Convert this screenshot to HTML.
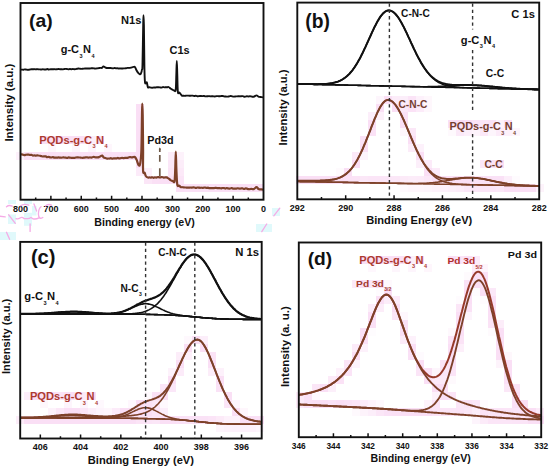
<!DOCTYPE html><html><head><meta charset="utf-8"><style>html,body{margin:0;padding:0;background:#fff;width:550px;height:468px;overflow:hidden}svg{display:block}</style></head><body><svg width="550" height="468" viewBox="0 0 550 468" font-family='"Liberation Sans", sans-serif' font-weight="bold">
<rect width="550" height="468" fill="#fff"/>
<g shape-rendering="crispEdges"><rect x="376" y="96" width="8" height="8" fill="#fdf5fc"/><rect x="384" y="96" width="8" height="8" fill="#fadff5"/><rect x="392" y="96" width="8" height="8" fill="#fcecf9"/><rect x="400" y="96" width="8" height="8" fill="#fceefa"/><rect x="408" y="96" width="8" height="8" fill="#fbe4f7"/><rect x="416" y="96" width="8" height="8" fill="#fdf1fb"/><rect x="424" y="96" width="8" height="8" fill="#fef7fc"/><rect x="136" y="104" width="8" height="8" fill="#fadff5"/><rect x="376" y="104" width="8" height="8" fill="#fadff5"/><rect x="392" y="104" width="8" height="8" fill="#fadff5"/><rect x="400" y="104" width="8" height="8" fill="#fbe8f8"/><rect x="408" y="104" width="8" height="8" fill="#fbe2f6"/><rect x="416" y="104" width="8" height="8" fill="#fcebf9"/><rect x="424" y="104" width="8" height="8" fill="#fef7fc"/><rect x="136" y="112" width="8" height="8" fill="#fadff5"/><rect x="368" y="112" width="8" height="8" fill="#fceefa"/><rect x="376" y="112" width="8" height="8" fill="#fdf0fa"/><rect x="400" y="112" width="8" height="8" fill="#fae1f6"/><rect x="136" y="120" width="8" height="8" fill="#fadff5"/><rect x="368" y="120" width="8" height="8" fill="#fadff5"/><rect x="400" y="120" width="8" height="8" fill="#fadff5"/><rect x="448" y="120" width="8" height="8" fill="#fadff5"/><rect x="456" y="120" width="8" height="8" fill="#fadff5"/><rect x="464" y="120" width="8" height="8" fill="#fadff5"/><rect x="472" y="120" width="8" height="8" fill="#fbe5f7"/><rect x="480" y="120" width="8" height="8" fill="#fbe6f7"/><rect x="488" y="120" width="8" height="8" fill="#fbe3f6"/><rect x="496" y="120" width="8" height="8" fill="#fdf2fb"/><rect x="504" y="120" width="8" height="8" fill="#fadff5"/><rect x="136" y="128" width="8" height="8" fill="#fadff5"/><rect x="368" y="128" width="8" height="8" fill="#fbe2f6"/><rect x="400" y="128" width="8" height="8" fill="#fef6fc"/><rect x="408" y="128" width="8" height="8" fill="#fbe7f7"/><rect x="448" y="128" width="8" height="8" fill="#fef9fd"/><rect x="456" y="128" width="8" height="8" fill="#fbe9f8"/><rect x="464" y="128" width="8" height="8" fill="#fceffa"/><rect x="472" y="128" width="8" height="8" fill="#fdf3fb"/><rect x="480" y="128" width="8" height="8" fill="#fbe8f8"/><rect x="488" y="128" width="8" height="8" fill="#fdf5fc"/><rect x="496" y="128" width="8" height="8" fill="#fcebf9"/><rect x="504" y="128" width="8" height="8" fill="#fdf1fb"/><rect x="512" y="128" width="8" height="8" fill="#fdf5fc"/><rect x="40" y="136" width="8" height="8" fill="#fadff5"/><rect x="48" y="136" width="8" height="8" fill="#fadff5"/><rect x="56" y="136" width="8" height="8" fill="#fadff5"/><rect x="64" y="136" width="8" height="8" fill="#fadff5"/><rect x="72" y="136" width="8" height="8" fill="#fadff5"/><rect x="80" y="136" width="8" height="8" fill="#fadff5"/><rect x="88" y="136" width="8" height="8" fill="#fceefa"/><rect x="96" y="136" width="8" height="8" fill="#fadff5"/><rect x="136" y="136" width="8" height="8" fill="#fadff5"/><rect x="360" y="136" width="8" height="8" fill="#fae2f6"/><rect x="408" y="136" width="8" height="8" fill="#fadff5"/><rect x="48" y="144" width="8" height="8" fill="#fef7fc"/><rect x="72" y="144" width="8" height="8" fill="#fdf5fc"/><rect x="88" y="144" width="8" height="8" fill="#fdf5fc"/><rect x="104" y="144" width="8" height="8" fill="#fef6fc"/><rect x="136" y="144" width="8" height="8" fill="#fadff5"/><rect x="360" y="144" width="8" height="8" fill="#fadff5"/><rect x="408" y="144" width="8" height="8" fill="#fcecf9"/><rect x="416" y="144" width="8" height="8" fill="#fdf1fb"/><rect x="16" y="152" width="8" height="8" fill="#fdf1fb"/><rect x="24" y="152" width="8" height="8" fill="#fae0f5"/><rect x="32" y="152" width="8" height="8" fill="#fae1f6"/><rect x="40" y="152" width="8" height="8" fill="#fadff5"/><rect x="48" y="152" width="8" height="8" fill="#fadff5"/><rect x="56" y="152" width="8" height="8" fill="#fae0f5"/><rect x="64" y="152" width="8" height="8" fill="#fae0f5"/><rect x="72" y="152" width="8" height="8" fill="#fae1f6"/><rect x="80" y="152" width="8" height="8" fill="#fae0f5"/><rect x="88" y="152" width="8" height="8" fill="#fae0f5"/><rect x="96" y="152" width="8" height="8" fill="#fadff5"/><rect x="104" y="152" width="8" height="8" fill="#fae0f5"/><rect x="112" y="152" width="8" height="8" fill="#fae0f5"/><rect x="120" y="152" width="8" height="8" fill="#fae0f5"/><rect x="128" y="152" width="8" height="8" fill="#fadff5"/><rect x="136" y="152" width="8" height="8" fill="#fadff5"/><rect x="168" y="152" width="8" height="8" fill="#fcecf9"/><rect x="176" y="152" width="8" height="8" fill="#fdf2fb"/><rect x="352" y="152" width="8" height="8" fill="#fce9f8"/><rect x="360" y="152" width="8" height="8" fill="#fdf4fc"/><rect x="416" y="152" width="8" height="8" fill="#fadff5"/><rect x="136" y="160" width="8" height="8" fill="#fadff5"/><rect x="168" y="160" width="8" height="8" fill="#fbe7f8"/><rect x="176" y="160" width="8" height="8" fill="#fcedf9"/><rect x="352" y="160" width="8" height="8" fill="#fadff5"/><rect x="416" y="160" width="8" height="8" fill="#fceffa"/><rect x="424" y="160" width="8" height="8" fill="#fcebf9"/><rect x="480" y="160" width="8" height="8" fill="#fbe7f7"/><rect x="488" y="160" width="8" height="8" fill="#fbe3f6"/><rect x="496" y="160" width="8" height="8" fill="#fadff5"/><rect x="136" y="168" width="8" height="8" fill="#fcebf9"/><rect x="144" y="168" width="8" height="8" fill="#fceffa"/><rect x="168" y="168" width="8" height="8" fill="#fbe4f6"/><rect x="176" y="168" width="8" height="8" fill="#fce9f8"/><rect x="336" y="168" width="8" height="8" fill="#fefafd"/><rect x="344" y="168" width="8" height="8" fill="#fadff5"/><rect x="424" y="168" width="8" height="8" fill="#fadff5"/><rect x="432" y="168" width="8" height="8" fill="#fcebf9"/><rect x="144" y="176" width="8" height="8" fill="#fbe6f7"/><rect x="152" y="176" width="8" height="8" fill="#fae0f5"/><rect x="160" y="176" width="8" height="8" fill="#fadff5"/><rect x="168" y="176" width="8" height="8" fill="#fadff5"/><rect x="176" y="176" width="8" height="8" fill="#fbe4f7"/><rect x="296" y="176" width="8" height="8" fill="#fadff5"/><rect x="304" y="176" width="8" height="8" fill="#fadff5"/><rect x="312" y="176" width="8" height="8" fill="#fadff5"/><rect x="320" y="176" width="8" height="8" fill="#fadff5"/><rect x="328" y="176" width="8" height="8" fill="#fadff5"/><rect x="336" y="176" width="8" height="8" fill="#fadff5"/><rect x="344" y="176" width="8" height="8" fill="#fbe2f6"/><rect x="352" y="176" width="8" height="8" fill="#fbe3f6"/><rect x="360" y="176" width="8" height="8" fill="#fbe7f7"/><rect x="368" y="176" width="8" height="8" fill="#fbe5f7"/><rect x="376" y="176" width="8" height="8" fill="#fbe5f7"/><rect x="384" y="176" width="8" height="8" fill="#fbe6f7"/><rect x="392" y="176" width="8" height="8" fill="#fbe7f7"/><rect x="400" y="176" width="8" height="8" fill="#fceaf8"/><rect x="408" y="176" width="8" height="8" fill="#fcecf9"/><rect x="416" y="176" width="8" height="8" fill="#fcebf9"/><rect x="424" y="176" width="8" height="8" fill="#fbe7f8"/><rect x="432" y="176" width="8" height="8" fill="#fadff5"/><rect x="440" y="176" width="8" height="8" fill="#fadff5"/><rect x="448" y="176" width="8" height="8" fill="#fadff5"/><rect x="456" y="176" width="8" height="8" fill="#fadff5"/><rect x="464" y="176" width="8" height="8" fill="#fadff5"/><rect x="472" y="176" width="8" height="8" fill="#fae2f6"/><rect x="480" y="176" width="8" height="8" fill="#fae1f6"/><rect x="488" y="176" width="8" height="8" fill="#fae1f6"/><rect x="496" y="176" width="8" height="8" fill="#fae1f6"/><rect x="504" y="176" width="8" height="8" fill="#fceefa"/><rect x="512" y="176" width="8" height="8" fill="#fefbfe"/><rect x="176" y="184" width="8" height="8" fill="#fadff5"/><rect x="184" y="184" width="8" height="8" fill="#fae1f6"/><rect x="192" y="184" width="8" height="8" fill="#fae0f5"/><rect x="200" y="184" width="8" height="8" fill="#fae1f6"/><rect x="208" y="184" width="8" height="8" fill="#fae0f5"/><rect x="216" y="184" width="8" height="8" fill="#fae0f5"/><rect x="224" y="184" width="8" height="8" fill="#fae0f5"/><rect x="232" y="184" width="8" height="8" fill="#fae0f5"/><rect x="240" y="184" width="8" height="8" fill="#fadff5"/><rect x="248" y="184" width="8" height="8" fill="#fadff5"/><rect x="256" y="184" width="8" height="8" fill="#fae0f5"/><rect x="400" y="184" width="8" height="8" fill="#fef9fd"/><rect x="408" y="184" width="8" height="8" fill="#fef6fc"/><rect x="416" y="184" width="8" height="8" fill="#fef6fc"/><rect x="424" y="184" width="8" height="8" fill="#fdf5fc"/><rect x="432" y="184" width="8" height="8" fill="#fdf2fb"/><rect x="440" y="184" width="8" height="8" fill="#fdf1fb"/><rect x="448" y="184" width="8" height="8" fill="#fceffa"/><rect x="456" y="184" width="8" height="8" fill="#fcecf9"/><rect x="464" y="184" width="8" height="8" fill="#fbe7f8"/><rect x="472" y="184" width="8" height="8" fill="#fbe6f7"/><rect x="480" y="184" width="8" height="8" fill="#fbe5f7"/><rect x="488" y="184" width="8" height="8" fill="#fbe5f7"/><rect x="496" y="184" width="8" height="8" fill="#fbe7f7"/><rect x="504" y="184" width="8" height="8" fill="#fadff5"/><rect x="512" y="184" width="8" height="8" fill="#fadff5"/><rect x="520" y="184" width="8" height="8" fill="#fadff5"/><rect x="528" y="184" width="8" height="8" fill="#fae0f5"/><rect x="536" y="184" width="8" height="8" fill="#fdf3fb"/><rect x="360" y="256" width="8" height="8" fill="#fadff5"/><rect x="368" y="256" width="8" height="8" fill="#fadff5"/><rect x="376" y="256" width="8" height="8" fill="#fadff5"/><rect x="384" y="256" width="8" height="8" fill="#fadff5"/><rect x="392" y="256" width="8" height="8" fill="#fadff5"/><rect x="400" y="256" width="8" height="8" fill="#fadff5"/><rect x="408" y="256" width="8" height="8" fill="#fceffa"/><rect x="416" y="256" width="8" height="8" fill="#fadff5"/><rect x="448" y="256" width="8" height="8" fill="#fadff5"/><rect x="456" y="256" width="8" height="8" fill="#fbe4f7"/><rect x="464" y="256" width="8" height="8" fill="#fadff5"/><rect x="472" y="256" width="8" height="8" fill="#fcebf9"/><rect x="368" y="264" width="8" height="8" fill="#fef7fd"/><rect x="392" y="264" width="8" height="8" fill="#fdf5fc"/><rect x="408" y="264" width="8" height="8" fill="#fdf5fc"/><rect x="424" y="264" width="8" height="8" fill="#fef6fc"/><rect x="472" y="264" width="8" height="8" fill="#fceaf8"/><rect x="480" y="264" width="8" height="8" fill="#fef5fc"/><rect x="464" y="272" width="8" height="8" fill="#fefafd"/><rect x="472" y="272" width="8" height="8" fill="#fadff5"/><rect x="480" y="272" width="8" height="8" fill="#fae1f6"/><rect x="352" y="280" width="8" height="8" fill="#fceaf8"/><rect x="360" y="280" width="8" height="8" fill="#fadff5"/><rect x="368" y="280" width="8" height="8" fill="#fbe6f7"/><rect x="376" y="280" width="8" height="8" fill="#fadff5"/><rect x="384" y="280" width="8" height="8" fill="#fef9fd"/><rect x="464" y="280" width="8" height="8" fill="#fae2f6"/><rect x="472" y="280" width="8" height="8" fill="#fadff5"/><rect x="480" y="280" width="8" height="8" fill="#fadff5"/><rect x="376" y="288" width="8" height="8" fill="#fefbfe"/><rect x="384" y="288" width="8" height="8" fill="#fadff5"/><rect x="464" y="288" width="8" height="8" fill="#fadff5"/><rect x="472" y="288" width="8" height="8" fill="#fefcfe"/><rect x="480" y="288" width="8" height="8" fill="#fadff5"/><rect x="488" y="288" width="8" height="8" fill="#fbe8f8"/><rect x="376" y="296" width="8" height="8" fill="#fadff5"/><rect x="384" y="296" width="8" height="8" fill="#fcedf9"/><rect x="392" y="296" width="8" height="8" fill="#fcebf9"/><rect x="456" y="296" width="8" height="8" fill="#fefbfe"/><rect x="464" y="296" width="8" height="8" fill="#fadff5"/><rect x="480" y="296" width="8" height="8" fill="#fefbfe"/><rect x="488" y="296" width="8" height="8" fill="#fadff5"/><rect x="368" y="304" width="8" height="8" fill="#fceefa"/><rect x="376" y="304" width="8" height="8" fill="#fcedf9"/><rect x="392" y="304" width="8" height="8" fill="#fadff5"/><rect x="456" y="304" width="8" height="8" fill="#fbe6f7"/><rect x="464" y="304" width="8" height="8" fill="#fae2f6"/><rect x="488" y="304" width="8" height="8" fill="#fadff5"/><rect x="368" y="312" width="8" height="8" fill="#fadff5"/><rect x="392" y="312" width="8" height="8" fill="#fbe6f7"/><rect x="400" y="312" width="8" height="8" fill="#fef7fd"/><rect x="456" y="312" width="8" height="8" fill="#fadff5"/><rect x="464" y="312" width="8" height="8" fill="#fdf4fc"/><rect x="488" y="312" width="8" height="8" fill="#fadff5"/><rect x="368" y="320" width="8" height="8" fill="#fae0f5"/><rect x="400" y="320" width="8" height="8" fill="#fadff5"/><rect x="456" y="320" width="8" height="8" fill="#fadff5"/><rect x="488" y="320" width="8" height="8" fill="#fbe3f6"/><rect x="496" y="320" width="8" height="8" fill="#fcedf9"/><rect x="360" y="328" width="8" height="8" fill="#fae1f6"/><rect x="368" y="328" width="8" height="8" fill="#fefcfe"/><rect x="400" y="328" width="8" height="8" fill="#fadff5"/><rect x="448" y="328" width="8" height="8" fill="#fef8fd"/><rect x="456" y="328" width="8" height="8" fill="#fadff5"/><rect x="488" y="328" width="8" height="8" fill="#fefafd"/><rect x="496" y="328" width="8" height="8" fill="#fadff5"/><rect x="184" y="336" width="8" height="8" fill="#fef8fd"/><rect x="192" y="336" width="8" height="8" fill="#fadff5"/><rect x="200" y="336" width="8" height="8" fill="#fceefa"/><rect x="360" y="336" width="8" height="8" fill="#fadff5"/><rect x="400" y="336" width="8" height="8" fill="#fcebf9"/><rect x="408" y="336" width="8" height="8" fill="#fdf1fb"/><rect x="448" y="336" width="8" height="8" fill="#fbe4f7"/><rect x="456" y="336" width="8" height="8" fill="#fbe3f6"/><rect x="496" y="336" width="8" height="8" fill="#fadff5"/><rect x="184" y="344" width="8" height="8" fill="#fadff5"/><rect x="200" y="344" width="8" height="8" fill="#fadff5"/><rect x="352" y="344" width="8" height="8" fill="#fcebf9"/><rect x="360" y="344" width="8" height="8" fill="#fdf1fb"/><rect x="408" y="344" width="8" height="8" fill="#fadff5"/><rect x="448" y="344" width="8" height="8" fill="#fadff5"/><rect x="456" y="344" width="8" height="8" fill="#fdeffa"/><rect x="496" y="344" width="8" height="8" fill="#fadff5"/><rect x="176" y="352" width="8" height="8" fill="#fcedf9"/><rect x="184" y="352" width="8" height="8" fill="#fdf0fa"/><rect x="200" y="352" width="8" height="8" fill="#fefbfe"/><rect x="208" y="352" width="8" height="8" fill="#fbe3f6"/><rect x="352" y="352" width="8" height="8" fill="#fadff5"/><rect x="408" y="352" width="8" height="8" fill="#fae1f6"/><rect x="416" y="352" width="8" height="8" fill="#fefafe"/><rect x="448" y="352" width="8" height="8" fill="#fadff5"/><rect x="496" y="352" width="8" height="8" fill="#fadff5"/><rect x="504" y="352" width="8" height="8" fill="#fef7fc"/><rect x="176" y="360" width="8" height="8" fill="#fadff5"/><rect x="208" y="360" width="8" height="8" fill="#fadff5"/><rect x="344" y="360" width="8" height="8" fill="#fbe5f7"/><rect x="352" y="360" width="8" height="8" fill="#fdf4fc"/><rect x="416" y="360" width="8" height="8" fill="#fadff5"/><rect x="440" y="360" width="8" height="8" fill="#fbe4f7"/><rect x="448" y="360" width="8" height="8" fill="#fae2f6"/><rect x="496" y="360" width="8" height="8" fill="#fdf3fb"/><rect x="504" y="360" width="8" height="8" fill="#fadff5"/><rect x="168" y="368" width="8" height="8" fill="#fdf2fb"/><rect x="176" y="368" width="8" height="8" fill="#fcebf9"/><rect x="208" y="368" width="8" height="8" fill="#fcedf9"/><rect x="216" y="368" width="8" height="8" fill="#fdf1fb"/><rect x="336" y="368" width="8" height="8" fill="#fdf1fb"/><rect x="344" y="368" width="8" height="8" fill="#fbe4f7"/><rect x="416" y="368" width="8" height="8" fill="#fbe5f7"/><rect x="424" y="368" width="8" height="8" fill="#fae0f5"/><rect x="432" y="368" width="8" height="8" fill="#fdf5fc"/><rect x="440" y="368" width="8" height="8" fill="#fbe6f7"/><rect x="448" y="368" width="8" height="8" fill="#fbe4f7"/><rect x="504" y="368" width="8" height="8" fill="#fadff5"/><rect x="168" y="376" width="8" height="8" fill="#fadff5"/><rect x="216" y="376" width="8" height="8" fill="#fadff5"/><rect x="328" y="376" width="8" height="8" fill="#fceaf8"/><rect x="336" y="376" width="8" height="8" fill="#fbe2f6"/><rect x="424" y="376" width="8" height="8" fill="#fadff5"/><rect x="432" y="376" width="8" height="8" fill="#fce9f8"/><rect x="440" y="376" width="8" height="8" fill="#fceaf8"/><rect x="448" y="376" width="8" height="8" fill="#fef9fd"/><rect x="504" y="376" width="8" height="8" fill="#fadff5"/><rect x="160" y="384" width="8" height="8" fill="#fbe5f7"/><rect x="168" y="384" width="8" height="8" fill="#fbe7f8"/><rect x="216" y="384" width="8" height="8" fill="#fae2f6"/><rect x="312" y="384" width="8" height="8" fill="#fbe6f7"/><rect x="320" y="384" width="8" height="8" fill="#fadff5"/><rect x="328" y="384" width="8" height="8" fill="#fceffa"/><rect x="432" y="384" width="8" height="8" fill="#fadff5"/><rect x="440" y="384" width="8" height="8" fill="#fadff5"/><rect x="504" y="384" width="8" height="8" fill="#fbe7f7"/><rect x="512" y="384" width="8" height="8" fill="#fbe4f6"/><rect x="24" y="392" width="8" height="8" fill="#fceefa"/><rect x="32" y="392" width="8" height="8" fill="#fadff5"/><rect x="40" y="392" width="8" height="8" fill="#fadff5"/><rect x="48" y="392" width="8" height="8" fill="#fadff5"/><rect x="56" y="392" width="8" height="8" fill="#fbe3f6"/><rect x="64" y="392" width="8" height="8" fill="#fadff5"/><rect x="72" y="392" width="8" height="8" fill="#fadff5"/><rect x="80" y="392" width="8" height="8" fill="#fceaf8"/><rect x="88" y="392" width="8" height="8" fill="#fadff5"/><rect x="144" y="392" width="8" height="8" fill="#fef9fd"/><rect x="152" y="392" width="8" height="8" fill="#fae2f6"/><rect x="160" y="392" width="8" height="8" fill="#fadff5"/><rect x="224" y="392" width="8" height="8" fill="#fae0f5"/><rect x="296" y="392" width="8" height="8" fill="#fceaf8"/><rect x="304" y="392" width="8" height="8" fill="#fae2f6"/><rect x="312" y="392" width="8" height="8" fill="#fef9fd"/><rect x="432" y="392" width="8" height="8" fill="#fdf2fb"/><rect x="440" y="392" width="8" height="8" fill="#fadff5"/><rect x="448" y="392" width="8" height="8" fill="#fbe4f7"/><rect x="512" y="392" width="8" height="8" fill="#fadff5"/><rect x="40" y="400" width="8" height="8" fill="#fef7fc"/><rect x="64" y="400" width="8" height="8" fill="#fdf5fc"/><rect x="80" y="400" width="8" height="8" fill="#fdf5fc"/><rect x="96" y="400" width="8" height="8" fill="#fef8fd"/><rect x="128" y="400" width="8" height="8" fill="#fef7fd"/><rect x="136" y="400" width="8" height="8" fill="#fadff5"/><rect x="144" y="400" width="8" height="8" fill="#fae0f5"/><rect x="152" y="400" width="8" height="8" fill="#fbe6f7"/><rect x="160" y="400" width="8" height="8" fill="#fef9fd"/><rect x="224" y="400" width="8" height="8" fill="#fbe5f7"/><rect x="232" y="400" width="8" height="8" fill="#fdf5fc"/><rect x="296" y="400" width="8" height="8" fill="#fceaf8"/><rect x="304" y="400" width="8" height="8" fill="#fae2f6"/><rect x="312" y="400" width="8" height="8" fill="#fae0f5"/><rect x="320" y="400" width="8" height="8" fill="#fadff5"/><rect x="328" y="400" width="8" height="8" fill="#fae2f6"/><rect x="336" y="400" width="8" height="8" fill="#fadff5"/><rect x="344" y="400" width="8" height="8" fill="#fae2f6"/><rect x="352" y="400" width="8" height="8" fill="#fbe5f7"/><rect x="360" y="400" width="8" height="8" fill="#fcecf9"/><rect x="368" y="400" width="8" height="8" fill="#fdf2fb"/><rect x="376" y="400" width="8" height="8" fill="#fef8fd"/><rect x="424" y="400" width="8" height="8" fill="#fdf3fb"/><rect x="432" y="400" width="8" height="8" fill="#fbe4f7"/><rect x="456" y="400" width="8" height="8" fill="#fbe6f7"/><rect x="464" y="400" width="8" height="8" fill="#fbe3f6"/><rect x="472" y="400" width="8" height="8" fill="#fbe7f7"/><rect x="480" y="400" width="8" height="8" fill="#fefbfe"/><rect x="512" y="400" width="8" height="8" fill="#fae0f5"/><rect x="520" y="400" width="8" height="8" fill="#fadff5"/><rect x="48" y="408" width="8" height="8" fill="#fdf2fb"/><rect x="56" y="408" width="8" height="8" fill="#fbe7f7"/><rect x="64" y="408" width="8" height="8" fill="#fadff5"/><rect x="72" y="408" width="8" height="8" fill="#fadff5"/><rect x="80" y="408" width="8" height="8" fill="#fbe5f7"/><rect x="88" y="408" width="8" height="8" fill="#fceefa"/><rect x="96" y="408" width="8" height="8" fill="#fdf4fc"/><rect x="104" y="408" width="8" height="8" fill="#fef6fc"/><rect x="112" y="408" width="8" height="8" fill="#fcebf9"/><rect x="120" y="408" width="8" height="8" fill="#fadff5"/><rect x="128" y="408" width="8" height="8" fill="#fadff5"/><rect x="136" y="408" width="8" height="8" fill="#fadff5"/><rect x="144" y="408" width="8" height="8" fill="#fadff5"/><rect x="152" y="408" width="8" height="8" fill="#fbe5f7"/><rect x="160" y="408" width="8" height="8" fill="#fceefa"/><rect x="232" y="408" width="8" height="8" fill="#fadff5"/><rect x="240" y="408" width="8" height="8" fill="#fef6fc"/><rect x="352" y="408" width="8" height="8" fill="#fef9fd"/><rect x="360" y="408" width="8" height="8" fill="#fdf3fb"/><rect x="368" y="408" width="8" height="8" fill="#fceefa"/><rect x="376" y="408" width="8" height="8" fill="#fbe6f7"/><rect x="384" y="408" width="8" height="8" fill="#fae1f6"/><rect x="392" y="408" width="8" height="8" fill="#fae0f5"/><rect x="400" y="408" width="8" height="8" fill="#fadff5"/><rect x="408" y="408" width="8" height="8" fill="#fadff5"/><rect x="416" y="408" width="8" height="8" fill="#fadff5"/><rect x="424" y="408" width="8" height="8" fill="#fadff5"/><rect x="432" y="408" width="8" height="8" fill="#fbe4f7"/><rect x="440" y="408" width="8" height="8" fill="#fbe5f7"/><rect x="448" y="408" width="8" height="8" fill="#fbe5f7"/><rect x="456" y="408" width="8" height="8" fill="#fbe4f7"/><rect x="464" y="408" width="8" height="8" fill="#fbe7f7"/><rect x="472" y="408" width="8" height="8" fill="#fceefa"/><rect x="480" y="408" width="8" height="8" fill="#fbe3f6"/><rect x="488" y="408" width="8" height="8" fill="#fbe5f7"/><rect x="496" y="408" width="8" height="8" fill="#fbe4f7"/><rect x="504" y="408" width="8" height="8" fill="#fbe5f7"/><rect x="512" y="408" width="8" height="8" fill="#fbe5f7"/><rect x="520" y="408" width="8" height="8" fill="#fadff5"/><rect x="528" y="408" width="8" height="8" fill="#fadff5"/><rect x="536" y="408" width="8" height="8" fill="#fcebf9"/><rect x="16" y="416" width="8" height="8" fill="#fcedf9"/><rect x="24" y="416" width="8" height="8" fill="#fadff5"/><rect x="32" y="416" width="8" height="8" fill="#fadff5"/><rect x="40" y="416" width="8" height="8" fill="#fadff5"/><rect x="48" y="416" width="8" height="8" fill="#fadff5"/><rect x="56" y="416" width="8" height="8" fill="#fadff5"/><rect x="64" y="416" width="8" height="8" fill="#fadff5"/><rect x="72" y="416" width="8" height="8" fill="#fadff5"/><rect x="80" y="416" width="8" height="8" fill="#fadff5"/><rect x="88" y="416" width="8" height="8" fill="#fadff5"/><rect x="96" y="416" width="8" height="8" fill="#fadff5"/><rect x="104" y="416" width="8" height="8" fill="#fadff5"/><rect x="112" y="416" width="8" height="8" fill="#fadff5"/><rect x="120" y="416" width="8" height="8" fill="#fadff5"/><rect x="128" y="416" width="8" height="8" fill="#fadff5"/><rect x="136" y="416" width="8" height="8" fill="#fbe4f6"/><rect x="144" y="416" width="8" height="8" fill="#fbe4f7"/><rect x="152" y="416" width="8" height="8" fill="#fbe6f7"/><rect x="160" y="416" width="8" height="8" fill="#fadff5"/><rect x="168" y="416" width="8" height="8" fill="#fadff5"/><rect x="176" y="416" width="8" height="8" fill="#fae1f6"/><rect x="184" y="416" width="8" height="8" fill="#fae2f6"/><rect x="192" y="416" width="8" height="8" fill="#fae2f6"/><rect x="200" y="416" width="8" height="8" fill="#fae2f6"/><rect x="208" y="416" width="8" height="8" fill="#fbe4f7"/><rect x="216" y="416" width="8" height="8" fill="#fceaf8"/><rect x="224" y="416" width="8" height="8" fill="#fdf1fb"/><rect x="232" y="416" width="8" height="8" fill="#fdf2fb"/><rect x="240" y="416" width="8" height="8" fill="#fadff5"/><rect x="248" y="416" width="8" height="8" fill="#fadff5"/><rect x="256" y="416" width="8" height="8" fill="#fae0f5"/><rect x="472" y="416" width="8" height="8" fill="#fdf4fc"/><rect x="480" y="416" width="8" height="8" fill="#fcebf9"/><rect x="488" y="416" width="8" height="8" fill="#fbe5f7"/><rect x="496" y="416" width="8" height="8" fill="#fbe5f7"/><rect x="504" y="416" width="8" height="8" fill="#fbe5f7"/><rect x="512" y="416" width="8" height="8" fill="#fbe4f7"/><rect x="520" y="416" width="8" height="8" fill="#fbe4f7"/><rect x="528" y="416" width="8" height="8" fill="#fadff5"/><rect x="536" y="416" width="8" height="8" fill="#fadff5"/><rect x="216" y="424" width="8" height="8" fill="#fdf5fc"/><rect x="224" y="424" width="8" height="8" fill="#fdf2fb"/><rect x="232" y="424" width="8" height="8" fill="#fdf1fb"/><rect x="240" y="424" width="8" height="8" fill="#fdf1fb"/><rect x="248" y="424" width="8" height="8" fill="#fdf1fb"/><rect x="256" y="424" width="8" height="8" fill="#fdf5fc"/></g>
<rect x="8" y="200" width="8" height="4" fill="#e0f9fb"/>
<rect x="24" y="200" width="8" height="4" fill="#e0f9fb"/>
<rect x="8" y="214.5" width="8" height="9.5" fill="#e0f9fb"/>
<rect x="24" y="212.8" width="8" height="13" fill="#e0f9fb"/>
<rect x="32" y="206" width="4.5" height="9.5" fill="#e0f9fb"/>
<rect x="0" y="232" width="16" height="8" fill="#e0f9fb"/>
<rect x="272" y="208" width="8" height="8" fill="#e0f9fb"/>
<rect x="256" y="224" width="16" height="8" fill="#e0f9fb"/>
<path d="M20.50,69.60 C20.73,69.60 21.40,69.60 21.86,69.62 C22.31,69.64 22.76,69.75 23.21,69.72 C23.67,69.68 24.12,69.44 24.57,69.41 C25.02,69.38 25.48,69.48 25.93,69.55 C26.38,69.62 26.83,69.76 27.29,69.80 C27.74,69.84 28.19,69.84 28.64,69.79 C29.10,69.74 29.54,69.59 30.00,69.50 C30.46,69.41 30.95,69.26 31.43,69.22 C31.90,69.18 32.38,69.28 32.86,69.27 C33.33,69.25 33.81,69.12 34.29,69.14 C34.76,69.17 35.24,69.41 35.71,69.40 C36.19,69.39 36.67,69.10 37.14,69.10 C37.62,69.10 38.10,69.33 38.57,69.38 C39.05,69.43 39.52,69.38 40.00,69.40 C40.48,69.42 40.95,69.53 41.43,69.50 C41.90,69.48 42.38,69.24 42.86,69.24 C43.33,69.25 43.81,69.49 44.29,69.52 C44.76,69.56 45.24,69.54 45.71,69.46 C46.19,69.39 46.67,69.07 47.14,69.07 C47.62,69.06 48.10,69.39 48.57,69.44 C49.05,69.50 49.52,69.44 50.00,69.40 C50.48,69.36 50.95,69.22 51.43,69.20 C51.90,69.18 52.38,69.29 52.86,69.28 C53.33,69.28 53.81,69.14 54.29,69.16 C54.76,69.19 55.24,69.41 55.71,69.42 C56.19,69.43 56.67,69.29 57.14,69.22 C57.62,69.14 58.10,68.99 58.57,68.99 C59.05,68.99 59.52,69.16 60.00,69.20 C60.48,69.24 60.95,69.18 61.43,69.20 C61.90,69.23 62.38,69.38 62.86,69.34 C63.33,69.30 63.81,69.05 64.29,68.98 C64.76,68.90 65.24,68.89 65.71,68.89 C66.19,68.89 66.67,68.90 67.14,68.98 C67.62,69.05 68.10,69.33 68.57,69.33 C69.05,69.34 69.52,69.00 70.00,69.00 C70.48,69.00 70.95,69.29 71.43,69.30 C71.90,69.32 72.38,69.08 72.86,69.06 C73.33,69.05 73.81,69.19 74.29,69.20 C74.76,69.21 75.24,69.20 75.71,69.13 C76.19,69.06 76.67,68.87 77.14,68.77 C77.62,68.67 78.10,68.54 78.57,68.54 C79.05,68.55 79.52,68.75 80.00,68.80 C80.48,68.85 80.95,68.87 81.43,68.86 C81.90,68.86 82.38,68.80 82.86,68.75 C83.33,68.71 83.81,68.63 84.29,68.57 C84.76,68.52 85.24,68.45 85.71,68.44 C86.19,68.43 86.67,68.51 87.14,68.52 C87.62,68.53 88.10,68.52 88.57,68.52 C89.05,68.52 89.54,68.54 90.00,68.50 C90.46,68.46 90.89,68.34 91.33,68.31 C91.78,68.27 92.22,68.28 92.67,68.29 C93.11,68.30 93.56,68.32 94.00,68.37 C94.44,68.43 94.89,68.62 95.33,68.62 C95.78,68.62 96.22,68.45 96.67,68.39 C97.11,68.34 97.56,68.36 98.00,68.30 C98.44,68.24 98.89,68.09 99.33,68.02 C99.78,67.94 100.22,67.90 100.67,67.88 C101.11,67.86 101.53,68.15 102.00,67.90 C102.47,67.65 103.00,66.50 103.50,66.40 C104.00,66.30 104.50,67.03 105.00,67.30 C105.50,67.57 106.02,67.88 106.50,68.00 C106.98,68.12 107.42,68.05 107.88,68.04 C108.33,68.03 108.79,67.95 109.25,67.94 C109.71,67.94 110.17,67.96 110.62,68.02 C111.08,68.08 111.55,68.25 112.00,68.30 C112.45,68.35 112.89,68.37 113.33,68.33 C113.78,68.28 114.22,68.04 114.67,68.04 C115.11,68.05 115.56,68.30 116.00,68.34 C116.44,68.38 116.89,68.24 117.33,68.27 C117.78,68.30 118.22,68.51 118.67,68.53 C119.11,68.55 119.53,68.40 120.00,68.40 C120.47,68.40 121.00,68.52 121.50,68.52 C122.00,68.53 122.50,68.46 123.00,68.43 C123.50,68.41 124.00,68.42 124.50,68.38 C125.00,68.34 125.47,68.28 126.00,68.20 C126.53,68.12 127.11,67.96 127.67,67.91 C128.22,67.86 128.78,67.97 129.33,67.92 C129.89,67.87 130.31,67.77 131.00,67.60 C131.69,67.43 132.83,66.98 133.50,66.90 C134.17,66.82 134.50,66.55 135.00,67.10 C135.50,67.65 135.97,69.23 136.50,70.20 C137.03,71.17 137.65,72.23 138.20,72.90 C138.75,73.57 139.35,74.10 139.80,74.20 C140.25,74.30 140.53,74.27 140.90,73.50 C141.27,72.73 141.73,71.15 142.00,69.60 C142.27,68.05 142.30,71.63 142.50,64.20 C142.70,56.77 143.03,33.17 143.20,25.00 C143.37,16.83 143.38,15.20 143.50,15.20 C143.62,15.20 143.75,16.55 143.90,25.00 C144.05,33.45 144.23,56.53 144.40,65.90 C144.57,75.27 144.68,78.28 144.90,81.20 C145.12,84.12 145.38,83.22 145.70,83.40 C146.02,83.58 146.43,81.67 146.80,82.30 C147.17,82.93 147.47,86.37 147.90,87.20 C148.33,88.03 148.88,87.19 149.37,87.25 C149.86,87.32 150.34,87.51 150.83,87.58 C151.32,87.66 151.80,87.71 152.30,87.70 C152.80,87.69 153.31,87.54 153.82,87.52 C154.33,87.49 154.83,87.59 155.34,87.54 C155.85,87.49 156.35,87.26 156.86,87.21 C157.37,87.17 157.87,87.25 158.38,87.28 C158.89,87.31 159.41,87.34 159.90,87.40 C160.40,87.46 160.87,87.72 161.35,87.66 C161.83,87.61 162.32,87.13 162.80,87.08 C163.28,87.02 163.77,87.31 164.25,87.33 C164.73,87.36 165.22,87.26 165.70,87.24 C166.18,87.22 166.67,87.26 167.15,87.22 C167.63,87.18 167.99,86.74 168.60,87.00 C169.21,87.26 170.16,88.36 170.80,88.80 C171.44,89.24 171.90,89.35 172.45,89.63 C173.00,89.92 173.56,90.46 174.10,90.50 C174.64,90.54 175.33,92.48 175.70,89.90 C176.07,87.32 176.12,79.82 176.30,75.00 C176.48,70.18 176.63,61.00 176.80,61.00 C176.97,61.00 177.12,69.82 177.30,75.00 C177.48,80.18 177.53,89.17 177.90,92.10 C178.27,95.03 178.87,92.05 179.50,92.60 C180.13,93.15 181.06,94.88 181.70,95.40 C182.34,95.92 182.80,95.63 183.35,95.72 C183.90,95.80 184.50,95.92 185.00,95.90 C185.50,95.88 185.91,95.65 186.36,95.61 C186.82,95.56 187.27,95.60 187.73,95.62 C188.18,95.64 188.64,95.70 189.09,95.72 C189.55,95.73 190.00,95.70 190.45,95.69 C190.91,95.68 191.36,95.67 191.82,95.67 C192.27,95.67 192.73,95.64 193.18,95.70 C193.64,95.75 194.09,95.99 194.55,96.00 C195.00,96.01 195.45,95.70 195.91,95.75 C196.36,95.80 196.82,96.24 197.27,96.30 C197.73,96.36 198.18,96.17 198.64,96.12 C199.09,96.07 199.55,96.01 200.00,96.00 C200.45,95.99 200.89,96.01 201.33,96.04 C201.78,96.07 202.22,96.20 202.67,96.17 C203.11,96.14 203.56,95.84 204.00,95.87 C204.44,95.90 204.89,96.28 205.33,96.35 C205.78,96.42 206.22,96.32 206.67,96.30 C207.11,96.29 207.56,96.28 208.00,96.24 C208.44,96.20 208.89,96.06 209.33,96.08 C209.78,96.10 210.22,96.31 210.67,96.35 C211.11,96.38 211.56,96.31 212.00,96.29 C212.44,96.27 212.89,96.22 213.33,96.25 C213.78,96.27 214.22,96.44 214.67,96.44 C215.11,96.44 215.56,96.31 216.00,96.25 C216.44,96.19 216.89,96.08 217.33,96.08 C217.78,96.07 218.22,96.20 218.67,96.22 C219.11,96.24 219.56,96.24 220.00,96.20 C220.44,96.16 220.89,96.03 221.33,96.00 C221.78,95.97 222.22,95.94 222.67,96.01 C223.11,96.08 223.56,96.32 224.00,96.40 C224.44,96.47 224.89,96.42 225.33,96.45 C225.78,96.49 226.22,96.58 226.67,96.60 C227.11,96.61 227.56,96.57 228.00,96.53 C228.44,96.48 228.89,96.41 229.33,96.32 C229.78,96.24 230.22,96.02 230.67,96.02 C231.11,96.02 231.56,96.21 232.00,96.31 C232.44,96.41 232.89,96.59 233.33,96.63 C233.78,96.67 234.22,96.60 234.67,96.55 C235.11,96.50 235.56,96.38 236.00,96.35 C236.44,96.32 236.89,96.37 237.33,96.34 C237.78,96.32 238.22,96.18 238.67,96.19 C239.11,96.20 239.54,96.40 240.00,96.40 C240.46,96.40 240.93,96.24 241.40,96.19 C241.87,96.15 242.33,96.05 242.80,96.14 C243.27,96.23 243.73,96.66 244.20,96.73 C244.67,96.81 245.13,96.66 245.60,96.58 C246.07,96.50 246.53,96.27 247.00,96.25 C247.47,96.23 247.93,96.46 248.40,96.46 C248.87,96.46 249.33,96.24 249.80,96.22 C250.27,96.21 250.73,96.27 251.20,96.36 C251.67,96.44 252.13,96.70 252.60,96.74 C253.07,96.78 253.35,96.82 254.00,96.60 C254.65,96.38 255.75,95.40 256.50,95.40 C257.25,95.40 257.92,96.34 258.50,96.60 C259.08,96.86 259.50,96.89 260.00,96.97 C260.50,97.06 261.00,97.05 261.50,97.12 C262.00,97.19 262.75,97.35 263.00,97.40" fill="none" stroke="#111" stroke-width="1.9" stroke-linejoin="round"/>
<path d="M20.50,154.50 C20.73,154.49 21.40,154.37 21.86,154.41 C22.31,154.46 22.76,154.65 23.21,154.75 C23.67,154.85 24.12,155.04 24.57,155.03 C25.02,155.03 25.48,154.82 25.93,154.74 C26.38,154.66 26.83,154.58 27.29,154.56 C27.74,154.54 28.19,154.55 28.64,154.62 C29.10,154.69 29.54,154.97 30.00,155.00 C30.46,155.03 30.95,154.73 31.43,154.82 C31.90,154.91 32.38,155.46 32.86,155.55 C33.33,155.64 33.81,155.35 34.29,155.37 C34.76,155.40 35.24,155.70 35.71,155.69 C36.19,155.69 36.67,155.37 37.14,155.34 C37.62,155.31 38.10,155.44 38.57,155.52 C39.05,155.59 39.52,155.69 40.00,155.80 C40.48,155.91 40.95,156.03 41.43,156.15 C41.90,156.27 42.38,156.48 42.86,156.51 C43.33,156.54 43.81,156.36 44.29,156.33 C44.76,156.31 45.24,156.22 45.71,156.35 C46.19,156.48 46.67,157.03 47.14,157.13 C47.62,157.22 48.10,156.91 48.57,156.94 C49.05,156.97 49.52,157.20 50.00,157.30 C50.48,157.40 50.95,157.54 51.43,157.51 C51.90,157.49 52.38,157.14 52.86,157.15 C53.33,157.16 53.81,157.47 54.29,157.57 C54.76,157.66 55.24,157.69 55.71,157.71 C56.19,157.73 56.67,157.72 57.14,157.67 C57.62,157.63 58.10,157.47 58.57,157.46 C59.05,157.45 59.52,157.55 60.00,157.60 C60.48,157.65 60.95,157.81 61.43,157.77 C61.90,157.74 62.38,157.42 62.86,157.38 C63.33,157.33 63.81,157.48 64.29,157.51 C64.76,157.55 65.24,157.53 65.71,157.60 C66.19,157.67 66.67,157.96 67.14,157.94 C67.62,157.91 68.10,157.48 68.57,157.44 C69.05,157.40 69.52,157.62 70.00,157.70 C70.48,157.78 70.95,157.91 71.43,157.94 C71.90,157.96 72.38,157.85 72.86,157.85 C73.33,157.85 73.81,158.00 74.29,157.94 C74.76,157.88 75.24,157.59 75.71,157.49 C76.19,157.39 76.67,157.37 77.14,157.35 C77.62,157.33 78.10,157.32 78.57,157.35 C79.05,157.37 79.52,157.44 80.00,157.50 C80.48,157.56 80.95,157.67 81.43,157.72 C81.90,157.76 82.38,157.82 82.86,157.80 C83.33,157.78 83.81,157.66 84.29,157.60 C84.76,157.54 85.24,157.48 85.71,157.43 C86.19,157.38 86.67,157.24 87.14,157.28 C87.62,157.32 88.10,157.63 88.57,157.65 C89.05,157.67 89.51,157.41 90.00,157.40 C90.49,157.39 91.00,157.67 91.50,157.61 C92.00,157.55 92.50,157.11 93.00,157.01 C93.50,156.92 94.00,156.98 94.50,157.05 C95.00,157.12 95.50,157.38 96.00,157.43 C96.50,157.49 97.00,157.45 97.50,157.39 C98.00,157.34 98.48,157.30 99.00,157.10 C99.52,156.90 100.07,156.47 100.60,156.22 C101.13,155.97 101.67,155.35 102.20,155.60 C102.73,155.85 103.27,157.30 103.80,157.70 C104.33,158.10 104.87,157.85 105.40,158.00 C105.93,158.15 106.51,158.52 107.00,158.60 C107.49,158.68 107.89,158.51 108.33,158.50 C108.78,158.49 109.22,158.58 109.67,158.53 C110.11,158.47 110.56,158.15 111.00,158.17 C111.44,158.18 111.89,158.60 112.33,158.64 C112.78,158.67 113.22,158.43 113.67,158.37 C114.11,158.32 114.54,158.29 115.00,158.30 C115.46,158.31 115.95,158.48 116.43,158.42 C116.90,158.37 117.38,157.97 117.86,157.97 C118.33,157.97 118.81,158.37 119.29,158.41 C119.76,158.45 120.24,158.29 120.71,158.19 C121.19,158.09 121.67,157.83 122.14,157.83 C122.62,157.83 123.10,158.19 123.57,158.19 C124.05,158.18 124.54,157.86 125.00,157.80 C125.46,157.74 125.89,157.83 126.33,157.84 C126.78,157.85 127.22,157.95 127.67,157.84 C128.11,157.73 128.56,157.31 129.00,157.18 C129.44,157.06 129.89,157.04 130.33,157.09 C130.78,157.14 131.22,157.45 131.67,157.47 C132.11,157.49 132.48,157.28 133.00,157.20 C133.52,157.12 134.22,156.62 134.80,157.00 C135.38,157.38 135.85,158.12 136.50,159.50 C137.15,160.88 138.08,164.63 138.70,165.30 C139.32,165.97 139.75,166.05 140.20,163.50 C140.65,160.95 141.10,158.08 141.40,150.00 C141.70,141.92 141.85,122.75 142.00,115.00 C142.15,107.25 142.18,103.50 142.30,103.50 C142.42,103.50 142.57,107.25 142.70,115.00 C142.83,122.75 143.03,140.65 143.10,150.00 C143.17,159.35 142.83,167.32 143.10,171.10 C143.37,174.88 144.25,171.88 144.70,172.70 C145.15,173.52 145.25,175.18 145.80,176.00 C146.35,176.82 147.40,177.36 148.00,177.60 C148.60,177.84 148.93,177.44 149.40,177.43 C149.87,177.42 150.33,177.57 150.80,177.54 C151.27,177.51 151.73,177.21 152.20,177.25 C152.67,177.29 153.13,177.76 153.60,177.78 C154.07,177.81 154.53,177.44 155.00,177.41 C155.47,177.38 155.93,177.67 156.40,177.61 C156.87,177.54 157.33,177.09 157.80,177.04 C158.27,176.99 158.72,177.26 159.20,177.30 C159.68,177.34 160.19,177.35 160.68,177.31 C161.17,177.26 161.67,176.98 162.16,177.03 C162.65,177.09 163.15,177.58 163.64,177.63 C164.13,177.68 164.63,177.38 165.12,177.34 C165.61,177.30 166.11,177.27 166.60,177.40 C167.09,177.53 167.56,177.81 168.03,178.10 C168.51,178.38 168.99,178.72 169.47,179.10 C169.94,179.49 170.36,180.09 170.90,180.40 C171.44,180.71 172.10,180.79 172.70,180.98 C173.30,181.16 174.08,183.33 174.50,181.50 C174.92,179.67 174.98,174.98 175.20,170.00 C175.42,165.02 175.60,151.60 175.80,151.60 C176.00,151.60 176.15,164.48 176.40,170.00 C176.65,175.52 176.84,182.09 177.30,184.70 C177.76,187.31 178.53,185.24 179.15,185.65 C179.77,186.07 180.47,186.96 181.00,187.20 C181.53,187.44 181.89,187.05 182.33,187.08 C182.78,187.10 183.22,187.29 183.67,187.36 C184.11,187.43 184.55,187.47 185.00,187.50 C185.45,187.53 185.91,187.51 186.36,187.53 C186.82,187.54 187.27,187.59 187.73,187.61 C188.18,187.64 188.64,187.68 189.09,187.67 C189.55,187.65 190.00,187.51 190.45,187.52 C190.91,187.53 191.36,187.74 191.82,187.72 C192.27,187.70 192.73,187.45 193.18,187.42 C193.64,187.39 194.09,187.45 194.55,187.53 C195.00,187.62 195.45,187.93 195.91,187.93 C196.36,187.92 196.82,187.56 197.27,187.50 C197.73,187.44 198.18,187.53 198.64,187.58 C199.09,187.63 199.55,187.79 200.00,187.80 C200.45,187.81 200.89,187.64 201.33,187.65 C201.78,187.65 202.22,187.86 202.67,187.84 C203.11,187.82 203.56,187.57 204.00,187.53 C204.44,187.49 204.89,187.52 205.33,187.58 C205.78,187.64 206.22,187.88 206.67,187.91 C207.11,187.93 207.56,187.69 208.00,187.72 C208.44,187.76 208.89,188.03 209.33,188.11 C209.78,188.20 210.22,188.22 210.67,188.22 C211.11,188.22 211.56,188.10 212.00,188.09 C212.44,188.09 212.89,188.22 213.33,188.20 C213.78,188.19 214.22,188.08 214.67,188.02 C215.11,187.95 215.56,187.79 216.00,187.80 C216.44,187.82 216.89,188.06 217.33,188.10 C217.78,188.15 218.22,188.07 218.67,188.08 C219.11,188.10 219.56,188.16 220.00,188.20 C220.44,188.24 220.89,188.33 221.33,188.29 C221.78,188.26 222.22,188.03 222.67,188.00 C223.11,187.96 223.56,188.00 224.00,188.09 C224.44,188.18 224.89,188.51 225.33,188.53 C225.78,188.54 226.22,188.21 226.67,188.17 C227.11,188.13 227.56,188.21 228.00,188.30 C228.44,188.38 228.89,188.70 229.33,188.69 C229.78,188.69 230.22,188.34 230.67,188.26 C231.11,188.17 231.56,188.13 232.00,188.19 C232.44,188.25 232.89,188.55 233.33,188.61 C233.78,188.67 234.22,188.54 234.67,188.54 C235.11,188.54 235.56,188.65 236.00,188.60 C236.44,188.55 236.89,188.24 237.33,188.23 C237.78,188.21 238.22,188.45 238.67,188.52 C239.11,188.58 239.54,188.64 240.00,188.60 C240.46,188.56 240.93,188.31 241.40,188.29 C241.87,188.28 242.33,188.41 242.80,188.50 C243.27,188.60 243.73,188.87 244.20,188.86 C244.67,188.86 245.13,188.49 245.60,188.45 C246.07,188.42 246.53,188.53 247.00,188.66 C247.47,188.78 247.93,189.09 248.40,189.18 C248.87,189.27 249.33,189.26 249.80,189.21 C250.27,189.16 250.73,188.92 251.20,188.91 C251.67,188.89 252.13,189.11 252.60,189.12 C253.07,189.14 253.35,189.32 254.00,189.00 C254.65,188.68 255.75,187.20 256.50,187.20 C257.25,187.20 257.92,188.65 258.50,189.00 C259.08,189.35 259.50,189.25 260.00,189.33 C260.50,189.40 261.00,189.38 261.50,189.44 C262.00,189.50 262.75,189.66 263.00,189.70" fill="none" stroke="#7d4129" stroke-width="2.2" stroke-linejoin="round"/>
<path d="M159.8,148.2 V152 M159.8,155 V161.8 M159.8,168.2 V175.9" stroke="#6e5a48" stroke-width="1.7"/>
<path d="M158.8,150 L159.8,147.2 L160.8,150 Z" fill="#6e5a48"/>
<rect x="20.5" y="3.0" width="243.00" height="196.70" fill="none" stroke="#111" stroke-width="1.9"/>
<path d="M50.88,199.7 v-4 M81.25,199.7 v-4 M111.62,199.7 v-4 M142.00,199.7 v-4 M172.38,199.7 v-4 M202.75,199.7 v-4 M233.12,199.7 v-4 M35.69,199.7 v-2.3 M66.06,199.7 v-2.3 M96.44,199.7 v-2.3 M126.81,199.7 v-2.3 M157.19,199.7 v-2.3 M187.56,199.7 v-2.3 M217.94,199.7 v-2.3 M248.31,199.7 v-2.3 " stroke="#111" stroke-width="1.5" fill="none"/>
<text transform="translate(20.50,212.0) scale(1.0,1.05)" font-size="9" text-anchor="middle" fill="#111">800</text>
<text transform="translate(50.88,212.0) scale(1.0,1.05)" font-size="9" text-anchor="middle" fill="#111">700</text>
<text transform="translate(81.25,212.0) scale(1.0,1.05)" font-size="9" text-anchor="middle" fill="#111">600</text>
<text transform="translate(111.62,212.0) scale(1.0,1.05)" font-size="9" text-anchor="middle" fill="#111">500</text>
<text transform="translate(142.00,212.0) scale(1.0,1.05)" font-size="9" text-anchor="middle" fill="#111">400</text>
<text transform="translate(172.38,212.0) scale(1.0,1.05)" font-size="9" text-anchor="middle" fill="#111">300</text>
<text transform="translate(202.75,212.0) scale(1.0,1.05)" font-size="9" text-anchor="middle" fill="#111">200</text>
<text transform="translate(233.12,212.0) scale(1.0,1.05)" font-size="9" text-anchor="middle" fill="#111">100</text>
<text transform="translate(263.50,212.0) scale(1.0,1.05)" font-size="9" text-anchor="middle" fill="#111">0</text>
<text transform="translate(29.03,27.40) scale(1.010,1)" font-size="19.18" fill="#111" stroke="#111" stroke-width="0">(a)</text>
<text transform="translate(121.02,23.50) scale(0.970,1)" font-size="11.45" fill="#111" stroke="#111" stroke-width="0">N1s</text>
<text transform="translate(169.56,53.60) scale(0.972,1)" font-size="11.29" fill="#111" stroke="#111" stroke-width="0">C1s</text>
<text transform="translate(60.66,53.10) scale(1.016,1)" font-size="10.86" fill="#111" stroke="#111" stroke-width="0">g-C<tspan font-size="5.43" dx="0.43" dy="4.56">3</tspan><tspan dx="0.43" dy="-4.56">N</tspan><tspan font-size="5.43" dx="0.43" dy="4.56">4</tspan></text>
<text transform="translate(39.22,143.50) scale(0.978,1)" font-size="11.43" fill="#ac3a30" stroke="#ac3a30" stroke-width="0">PQDs-g-C<tspan font-size="5.71" dx="0.46" dy="4.80">3</tspan><tspan dx="0.46" dy="-4.80">N</tspan><tspan font-size="5.71" dx="0.46" dy="4.80">4</tspan></text>
<text transform="translate(147.24,144.05) scale(0.981,1)" font-size="11.03" fill="#111" stroke="#111" stroke-width="0">Pd3d</text>
<text transform="translate(94.25,226.00) scale(0.972,1)" font-size="10.96" fill="#111" stroke="#111" stroke-width="0">Binding energy (eV)</text>
<text transform="translate(13.20,141.61) rotate(-90) scale(0.989,1)" font-size="11.64" fill="#111" stroke="#111" stroke-width="0">Intensity (a.u.)</text>
<path d="M297.3,84.0 298.2,84.0 299.2,84.0 300.1,84.0 301.0,84.1 302.0,84.1 302.9,84.1 303.8,84.1 304.8,84.2 305.7,84.2 306.6,84.2 307.6,84.2 308.5,84.2 309.4,84.3 310.4,84.3 311.3,84.3 312.2,84.3 313.2,84.3 314.1,84.4 315.0,84.4 316.0,84.4 316.9,84.4 317.8,84.5 318.8,84.5 319.7,84.5 320.6,84.5 321.6,84.5 322.5,84.6 323.5,84.6 324.4,84.6 325.3,84.6 326.3,84.6 327.2,84.7 328.1,84.7 329.1,84.7 330.0,84.7 330.9,84.8 331.9,84.8 332.8,84.8 333.7,84.8 334.7,84.8 335.6,84.9 336.5,84.9 337.5,84.9 338.4,84.9 339.3,84.9 340.3,85.0 341.2,85.0 342.1,85.0 343.1,85.0 344.0,85.0 344.9,85.1 345.9,85.1 346.8,85.1 347.7,85.1 348.7,85.2 349.6,85.2 350.5,85.2 351.5,85.2 352.4,85.2 353.3,85.3 354.3,85.3 355.2,85.3 356.1,85.3 357.1,85.3 358.0,85.4 358.9,85.4 359.9,85.4 360.8,85.4 361.7,85.5 362.7,85.5 363.6,85.5 364.5,85.5 365.5,85.5 366.4,85.6 367.3,85.6 368.3,85.6 369.2,85.6 370.2,85.6 371.1,85.7 372.0,85.7 373.0,85.7 373.9,85.7 374.8,85.8 375.8,85.8 376.7,85.8 377.6,85.8 378.6,85.8 379.5,85.9 380.4,85.9 381.4,85.9 382.3,85.9 383.2,85.9 384.2,86.0 385.1,86.0 386.0,86.0 387.0,86.0 387.9,86.0 388.8,86.1 389.8,86.1 390.7,86.1 391.6,86.1 392.6,86.2 393.5,86.2 394.4,86.2 395.4,86.2 396.3,86.2 397.2,86.3 398.2,86.3 399.1,86.3 400.0,86.3 401.0,86.3 401.9,86.4 402.8,86.4 403.8,86.4 404.7,86.4 405.6,86.5 406.6,86.5 407.5,86.5 408.4,86.5 409.4,86.5 410.3,86.6 411.2,86.6 412.2,86.6 413.1,86.6 414.0,86.6 415.0,86.7 415.9,86.7 416.8,86.7 417.8,86.7 418.7,86.8 419.7,86.8 420.6,86.8 421.5,86.8 422.5,86.8 423.4,86.9 424.3,86.9 425.3,86.9 426.2,86.9 427.1,86.9 428.1,87.0 429.0,87.0 429.9,87.0 430.9,87.0 431.8,87.1 432.7,87.1 433.7,87.1 434.6,87.1 435.5,87.1 436.5,87.2 437.4,87.2 438.3,87.2 439.3,87.2 440.2,87.2 441.1,87.3 442.1,87.3 443.0,87.3 443.9,87.3 444.9,87.3 445.8,87.4 446.7,87.4 447.7,87.4 448.6,87.4 449.5,87.5 450.5,87.5 451.4,87.5 452.3,87.5 453.3,87.5 454.2,87.6 455.1,87.6 456.1,87.6 457.0,87.6 457.9,87.6 458.9,87.7 459.8,87.7 460.7,87.7 461.7,87.7 462.6,87.8 463.5,87.8 464.5,87.8 465.4,87.8 466.3,87.8 467.3,87.9 468.2,87.9 469.2,87.9 470.1,87.9 471.0,87.9 472.0,88.0 472.9,88.0 473.8,88.0 474.8,88.0 475.7,88.1 476.6,88.1 477.6,88.1 478.5,88.1 479.4,88.1 480.4,88.2 481.3,88.2 482.2,88.2 483.2,88.2 484.1,88.2 485.0,88.3 486.0,88.3 486.9,88.3 487.8,88.3 488.8,88.3 489.7,88.4 490.6,88.4 491.6,88.4 492.5,88.4 493.4,88.5 494.4,88.5 495.3,88.5 496.2,88.5 497.2,88.5 498.1,88.6 499.0,88.6 500.0,88.6 500.9,88.6 501.8,88.6 502.8,88.7 503.7,88.7 504.6,88.7 505.6,88.7 506.5,88.8 507.4,88.8 508.4,88.8 509.3,88.8 510.2,88.8 511.2,88.9 512.1,88.9 513.0,88.9 514.0,88.9 514.9,88.9 515.9,89.0 516.8,89.0 517.7,89.0 518.7,89.0 519.6,89.1 520.5,89.1 521.5,89.1 522.4,89.1 523.3,89.1 524.3,89.2 525.2,89.2 526.1,89.2 527.1,89.2 528.0,89.2 528.9,89.3 529.9,89.3 530.8,89.3 531.7,89.3 532.7,89.4 533.6,89.4 534.5,89.4 535.5,89.4 536.4,89.4 537.3,89.5 538.3,89.5 539.2,89.5" fill="none" stroke="#111" stroke-width="1.6"/>
<path d="M297.3,83.9 298.2,83.9 299.2,83.9 300.1,84.0 301.0,84.0 302.0,84.0 302.9,84.0 303.8,84.0 304.8,84.0 305.7,84.1 306.6,84.1 307.6,84.1 308.5,84.1 309.4,84.1 310.4,84.1 311.3,84.1 312.2,84.1 313.2,84.2 314.1,84.2 315.0,84.2 316.0,84.2 316.9,84.2 317.8,84.2 318.8,84.1 319.7,84.1 320.6,84.1 321.6,84.1 322.5,84.1 323.5,84.0 324.4,84.0 325.3,83.9 326.3,83.9 327.2,83.8 328.1,83.7 329.1,83.6 330.0,83.5 330.9,83.3 331.9,83.2 332.8,83.0 333.7,82.8 334.7,82.6 335.6,82.3 336.5,82.0 337.5,81.7 338.4,81.4 339.3,81.0 340.3,80.6 341.2,80.1 342.1,79.6 343.1,79.0 344.0,78.4 344.9,77.8 345.9,77.0 346.8,76.3 347.7,75.4 348.7,74.5 349.6,73.6 350.5,72.5 351.5,71.4 352.4,70.3 353.3,69.0 354.3,67.7 355.2,66.3 356.1,64.9 357.1,63.3 358.0,61.7 358.9,60.1 359.9,58.4 360.8,56.6 361.7,54.7 362.7,52.8 363.6,50.9 364.5,48.9 365.5,46.9 366.4,44.8 367.3,42.8 368.3,40.7 369.2,38.6 370.2,36.5 371.1,34.5 372.0,32.4 373.0,30.4 373.9,28.4 374.8,26.5 375.8,24.7 376.7,22.9 377.6,21.2 378.6,19.6 379.5,18.1 380.4,16.7 381.4,15.4 382.3,14.3 383.2,13.3 384.2,12.4 385.1,11.7 386.0,11.1 387.0,10.7 387.9,10.5 388.8,10.4 389.8,10.5 390.7,10.7 391.6,11.1 392.6,11.6 393.5,12.2 394.4,13.0 395.4,13.9 396.3,15.0 397.2,16.1 398.2,17.4 399.1,18.8 400.0,20.3 401.0,21.9 401.9,23.6 402.8,25.3 403.8,27.1 404.7,29.0 405.6,30.9 406.6,32.9 407.5,34.9 408.4,36.9 409.4,38.9 410.3,41.0 411.2,43.0 412.2,45.0 413.1,47.0 414.0,49.0 415.0,51.0 415.9,52.9 416.8,54.8 417.8,56.7 418.7,58.5 419.7,60.2 420.6,61.9 421.5,63.5 422.5,65.1 423.4,66.6 424.3,68.0 425.3,69.4 426.2,70.7 427.1,71.9 428.1,73.1 429.0,74.2 429.9,75.3 430.9,76.3 431.8,77.2 432.7,78.1 433.7,78.9 434.6,79.6 435.5,80.3 436.5,81.0 437.4,81.6 438.3,82.2 439.3,82.7 440.2,83.1 441.1,83.6 442.1,84.0 443.0,84.4 443.9,84.7 444.9,85.0 445.8,85.3 446.7,85.5 447.7,85.8 448.6,86.0 449.5,86.2 450.5,86.3 451.4,86.5 452.3,86.6 453.3,86.8 454.2,86.9 455.1,87.0 456.1,87.1 457.0,87.2 457.9,87.3 458.9,87.3 459.8,87.4 460.7,87.5 461.7,87.5 462.6,87.6 463.5,87.6 464.5,87.7 465.4,87.7 466.3,87.7 467.3,87.8 468.2,87.8 469.2,87.8 470.1,87.9 471.0,87.9 472.0,87.9 472.9,88.0 473.8,88.0 474.8,88.0 475.7,88.0 476.6,88.1 477.6,88.1 478.5,88.1 479.4,88.1 480.4,88.2 481.3,88.2 482.2,88.2 483.2,88.2 484.1,88.2 485.0,88.3 486.0,88.3 486.9,88.3 487.8,88.3 488.8,88.3 489.7,88.4 490.6,88.4 491.6,88.4 492.5,88.4 493.4,88.5 494.4,88.5 495.3,88.5 496.2,88.5 497.2,88.5 498.1,88.6 499.0,88.6 500.0,88.6 500.9,88.6 501.8,88.6 502.8,88.7 503.7,88.7 504.6,88.7 505.6,88.7 506.5,88.8 507.4,88.8 508.4,88.8 509.3,88.8 510.2,88.8 511.2,88.9 512.1,88.9 513.0,88.9 514.0,88.9 514.9,88.9 515.9,89.0 516.8,89.0 517.7,89.0 518.7,89.0 519.6,89.1 520.5,89.1 521.5,89.1 522.4,89.1 523.3,89.1 524.3,89.2 525.2,89.2 526.1,89.2 527.1,89.2 528.0,89.2 528.9,89.3 529.9,89.3 530.8,89.3 531.7,89.3 532.7,89.4 533.6,89.4 534.5,89.4 535.5,89.4 536.4,89.4 537.3,89.5 538.3,89.5 539.2,89.5" fill="none" stroke="#111" stroke-width="1.6"/>
<path d="M297.3,84.0 298.2,84.0 299.2,84.0 300.1,84.0 301.0,84.1 302.0,84.1 302.9,84.1 303.8,84.1 304.8,84.2 305.7,84.2 306.6,84.2 307.6,84.2 308.5,84.2 309.4,84.3 310.4,84.3 311.3,84.3 312.2,84.3 313.2,84.3 314.1,84.4 315.0,84.4 316.0,84.4 316.9,84.4 317.8,84.5 318.8,84.5 319.7,84.5 320.6,84.5 321.6,84.5 322.5,84.6 323.5,84.6 324.4,84.6 325.3,84.6 326.3,84.6 327.2,84.7 328.1,84.7 329.1,84.7 330.0,84.7 330.9,84.8 331.9,84.8 332.8,84.8 333.7,84.8 334.7,84.8 335.6,84.9 336.5,84.9 337.5,84.9 338.4,84.9 339.3,84.9 340.3,85.0 341.2,85.0 342.1,85.0 343.1,85.0 344.0,85.0 344.9,85.1 345.9,85.1 346.8,85.1 347.7,85.1 348.7,85.2 349.6,85.2 350.5,85.2 351.5,85.2 352.4,85.2 353.3,85.3 354.3,85.3 355.2,85.3 356.1,85.3 357.1,85.3 358.0,85.4 358.9,85.4 359.9,85.4 360.8,85.4 361.7,85.5 362.7,85.5 363.6,85.5 364.5,85.5 365.5,85.5 366.4,85.6 367.3,85.6 368.3,85.6 369.2,85.6 370.2,85.6 371.1,85.7 372.0,85.7 373.0,85.7 373.9,85.7 374.8,85.8 375.8,85.8 376.7,85.8 377.6,85.8 378.6,85.8 379.5,85.9 380.4,85.9 381.4,85.9 382.3,85.9 383.2,85.9 384.2,86.0 385.1,86.0 386.0,86.0 387.0,86.0 387.9,86.0 388.8,86.1 389.8,86.1 390.7,86.1 391.6,86.1 392.6,86.2 393.5,86.2 394.4,86.2 395.4,86.2 396.3,86.2 397.2,86.3 398.2,86.3 399.1,86.3 400.0,86.3 401.0,86.3 401.9,86.4 402.8,86.4 403.8,86.4 404.7,86.4 405.6,86.4 406.6,86.5 407.5,86.5 408.4,86.5 409.4,86.5 410.3,86.5 411.2,86.5 412.2,86.6 413.1,86.6 414.0,86.6 415.0,86.6 415.9,86.6 416.8,86.6 417.8,86.6 418.7,86.6 419.7,86.6 420.6,86.7 421.5,86.7 422.5,86.7 423.4,86.7 424.3,86.7 425.3,86.7 426.2,86.7 427.1,86.7 428.1,86.6 429.0,86.6 429.9,86.6 430.9,86.6 431.8,86.6 432.7,86.6 433.7,86.6 434.6,86.5 435.5,86.5 436.5,86.5 437.4,86.5 438.3,86.4 439.3,86.4 440.2,86.4 441.1,86.3 442.1,86.3 443.0,86.2 443.9,86.2 444.9,86.1 445.8,86.1 446.7,86.0 447.7,86.0 448.6,85.9 449.5,85.9 450.5,85.8 451.4,85.8 452.3,85.7 453.3,85.7 454.2,85.6 455.1,85.6 456.1,85.5 457.0,85.5 457.9,85.4 458.9,85.4 459.8,85.3 460.7,85.3 461.7,85.3 462.6,85.2 463.5,85.2 464.5,85.2 465.4,85.2 466.3,85.1 467.3,85.1 468.2,85.1 469.2,85.1 470.1,85.1 471.0,85.2 472.0,85.2 472.9,85.2 473.8,85.2 474.8,85.2 475.7,85.3 476.6,85.3 477.6,85.4 478.5,85.4 479.4,85.5 480.4,85.5 481.3,85.6 482.2,85.7 483.2,85.8 484.1,85.8 485.0,85.9 486.0,86.0 486.9,86.1 487.8,86.2 488.8,86.3 489.7,86.4 490.6,86.5 491.6,86.6 492.5,86.6 493.4,86.7 494.4,86.8 495.3,86.9 496.2,87.0 497.2,87.1 498.1,87.2 499.0,87.3 500.0,87.4 500.9,87.5 501.8,87.6 502.8,87.7 503.7,87.7 504.6,87.8 505.6,87.9 506.5,88.0 507.4,88.1 508.4,88.1 509.3,88.2 510.2,88.3 511.2,88.3 512.1,88.4 513.0,88.5 514.0,88.5 514.9,88.6 515.9,88.6 516.8,88.7 517.7,88.7 518.7,88.8 519.6,88.8 520.5,88.9 521.5,88.9 522.4,88.9 523.3,89.0 524.3,89.0 525.2,89.1 526.1,89.1 527.1,89.1 528.0,89.2 528.9,89.2 529.9,89.2 530.8,89.2 531.7,89.3 532.7,89.3 533.6,89.3 534.5,89.4 535.5,89.4 536.4,89.4 537.3,89.4 538.3,89.5 539.2,89.5" fill="none" stroke="#111" stroke-width="1.6"/>
<path d="M297.3,83.9 298.2,83.9 299.2,83.9 300.1,84.0 301.0,84.0 302.0,84.0 302.9,84.0 303.8,84.0 304.8,84.0 305.7,84.1 306.6,84.1 307.6,84.1 308.5,84.1 309.4,84.1 310.4,84.1 311.3,84.1 312.2,84.1 313.2,84.2 314.1,84.2 315.0,84.2 316.0,84.2 316.9,84.2 317.8,84.2 318.8,84.1 319.7,84.1 320.6,84.1 321.6,84.1 322.5,84.1 323.5,84.0 324.4,84.0 325.3,83.9 326.3,83.9 327.2,83.8 328.1,83.7 329.1,83.6 330.0,83.5 330.9,83.3 331.9,83.2 332.8,83.0 333.7,82.8 334.7,82.6 335.6,82.3 336.5,82.0 337.5,81.7 338.4,81.4 339.3,81.0 340.3,80.6 341.2,80.1 342.1,79.6 343.1,79.0 344.0,78.4 344.9,77.8 345.9,77.0 346.8,76.3 347.7,75.4 348.7,74.5 349.6,73.6 350.5,72.5 351.5,71.4 352.4,70.3 353.3,69.0 354.3,67.7 355.2,66.3 356.1,64.9 357.1,63.3 358.0,61.7 358.9,60.1 359.9,58.4 360.8,56.6 361.7,54.7 362.7,52.8 363.6,50.9 364.5,48.9 365.5,46.9 366.4,44.8 367.3,42.8 368.3,40.7 369.2,38.6 370.2,36.5 371.1,34.5 372.0,32.4 373.0,30.4 373.9,28.4 374.8,26.5 375.8,24.7 376.7,22.9 377.6,21.2 378.6,19.6 379.5,18.1 380.4,16.7 381.4,15.4 382.3,14.3 383.2,13.3 384.2,12.4 385.1,11.7 386.0,11.1 387.0,10.7 387.9,10.5 388.8,10.4 389.8,10.5 390.7,10.7 391.6,11.1 392.6,11.6 393.5,12.2 394.4,13.0 395.4,13.9 396.3,15.0 397.2,16.1 398.2,17.4 399.1,18.8 400.0,20.3 401.0,21.9 401.9,23.5 402.8,25.3 403.8,27.1 404.7,29.0 405.6,30.9 406.6,32.9 407.5,34.8 408.4,36.9 409.4,38.9 410.3,40.9 411.2,43.0 412.2,45.0 413.1,47.0 414.0,49.0 415.0,50.9 415.9,52.9 416.8,54.7 417.8,56.6 418.7,58.3 419.7,60.1 420.6,61.7 421.5,63.4 422.5,64.9 423.4,66.4 424.3,67.8 425.3,69.2 426.2,70.4 427.1,71.6 428.1,72.8 429.0,73.9 429.9,74.9 430.9,75.9 431.8,76.7 432.7,77.6 433.7,78.3 434.6,79.1 435.5,79.7 436.5,80.3 437.4,80.9 438.3,81.4 439.3,81.8 440.2,82.3 441.1,82.6 442.1,83.0 443.0,83.3 443.9,83.6 444.9,83.8 445.8,84.0 446.7,84.2 447.7,84.3 448.6,84.5 449.5,84.6 450.5,84.7 451.4,84.8 452.3,84.9 453.3,84.9 454.2,85.0 455.1,85.0 456.1,85.0 457.0,85.0 457.9,85.0 458.9,85.1 459.8,85.1 460.7,85.1 461.7,85.1 462.6,85.1 463.5,85.1 464.5,85.0 465.4,85.1 466.3,85.1 467.3,85.1 468.2,85.1 469.2,85.1 470.1,85.1 471.0,85.1 472.0,85.1 472.9,85.2 473.8,85.2 474.8,85.2 475.7,85.3 476.6,85.3 477.6,85.4 478.5,85.4 479.4,85.5 480.4,85.5 481.3,85.6 482.2,85.7 483.2,85.8 484.1,85.8 485.0,85.9 486.0,86.0 486.9,86.1 487.8,86.2 488.8,86.3 489.7,86.4 490.6,86.5 491.6,86.5 492.5,86.6 493.4,86.7 494.4,86.8 495.3,86.9 496.2,87.0 497.2,87.1 498.1,87.2 499.0,87.3 500.0,87.4 500.9,87.5 501.8,87.6 502.8,87.7 503.7,87.7 504.6,87.8 505.6,87.9 506.5,88.0 507.4,88.1 508.4,88.1 509.3,88.2 510.2,88.3 511.2,88.3 512.1,88.4 513.0,88.5 514.0,88.5 514.9,88.6 515.9,88.6 516.8,88.7 517.7,88.7 518.7,88.8 519.6,88.8 520.5,88.9 521.5,88.9 522.4,88.9 523.3,89.0 524.3,89.0 525.2,89.1 526.1,89.1 527.1,89.1 528.0,89.2 528.9,89.2 529.9,89.2 530.8,89.2 531.7,89.3 532.7,89.3 533.6,89.3 534.5,89.4 535.5,89.4 536.4,89.4 537.3,89.4 538.3,89.5 539.2,89.5" fill="none" stroke="#111" stroke-width="2.0"/>
<path d="M297.3,181.5 298.2,181.5 299.2,181.5 300.1,181.6 301.0,181.6 302.0,181.6 302.9,181.6 303.8,181.6 304.8,181.6 305.7,181.7 306.6,181.7 307.6,181.7 308.5,181.7 309.4,181.7 310.4,181.7 311.3,181.8 312.2,181.8 313.2,181.8 314.1,181.8 315.0,181.8 316.0,181.9 316.9,181.9 317.8,181.9 318.8,181.9 319.7,181.9 320.6,181.9 321.6,182.0 322.5,182.0 323.5,182.0 324.4,182.0 325.3,182.0 326.3,182.0 327.2,182.1 328.1,182.1 329.1,182.1 330.0,182.1 330.9,182.1 331.9,182.1 332.8,182.2 333.7,182.2 334.7,182.2 335.6,182.2 336.5,182.2 337.5,182.3 338.4,182.3 339.3,182.3 340.3,182.3 341.2,182.3 342.1,182.3 343.1,182.4 344.0,182.4 344.9,182.4 345.9,182.4 346.8,182.4 347.7,182.4 348.7,182.5 349.6,182.5 350.5,182.5 351.5,182.5 352.4,182.5 353.3,182.5 354.3,182.6 355.2,182.6 356.1,182.6 357.1,182.6 358.0,182.6 358.9,182.7 359.9,182.7 360.8,182.7 361.7,182.7 362.7,182.7 363.6,182.7 364.5,182.8 365.5,182.8 366.4,182.8 367.3,182.8 368.3,182.8 369.2,182.8 370.2,182.9 371.1,182.9 372.0,182.9 373.0,182.9 373.9,182.9 374.8,182.9 375.8,183.0 376.7,183.0 377.6,183.0 378.6,183.0 379.5,183.0 380.4,183.1 381.4,183.1 382.3,183.1 383.2,183.1 384.2,183.1 385.1,183.1 386.0,183.2 387.0,183.2 387.9,183.2 388.8,183.2 389.8,183.2 390.7,183.2 391.6,183.3 392.6,183.3 393.5,183.3 394.4,183.3 395.4,183.3 396.3,183.3 397.2,183.4 398.2,183.4 399.1,183.4 400.0,183.4 401.0,183.4 401.9,183.5 402.8,183.5 403.8,183.5 404.7,183.5 405.6,183.5 406.6,183.5 407.5,183.6 408.4,183.6 409.4,183.6 410.3,183.6 411.2,183.6 412.2,183.6 413.1,183.7 414.0,183.7 415.0,183.7 415.9,183.7 416.8,183.7 417.8,183.7 418.7,183.8 419.7,183.8 420.6,183.8 421.5,183.8 422.5,183.8 423.4,183.9 424.3,183.9 425.3,183.9 426.2,183.9 427.1,183.9 428.1,183.9 429.0,184.0 429.9,184.0 430.9,184.0 431.8,184.0 432.7,184.0 433.7,184.0 434.6,184.1 435.5,184.1 436.5,184.1 437.4,184.1 438.3,184.1 439.3,184.1 440.2,184.2 441.1,184.2 442.1,184.2 443.0,184.2 443.9,184.2 444.9,184.2 445.8,184.3 446.7,184.3 447.7,184.3 448.6,184.3 449.5,184.3 450.5,184.4 451.4,184.4 452.3,184.4 453.3,184.4 454.2,184.4 455.1,184.4 456.1,184.5 457.0,184.5 457.9,184.5 458.9,184.5 459.8,184.5 460.7,184.5 461.7,184.6 462.6,184.6 463.5,184.6 464.5,184.6 465.4,184.6 466.3,184.6 467.3,184.7 468.2,184.7 469.2,184.7 470.1,184.7 471.0,184.7 472.0,184.8 472.9,184.8 473.8,184.8 474.8,184.8 475.7,184.8 476.6,184.8 477.6,184.9 478.5,184.9 479.4,184.9 480.4,184.9 481.3,184.9 482.2,184.9 483.2,185.0 484.1,185.0 485.0,185.0 486.0,185.0 486.9,185.0 487.8,185.0 488.8,185.1 489.7,185.1 490.6,185.1 491.6,185.1 492.5,185.1 493.4,185.2 494.4,185.2 495.3,185.2 496.2,185.2 497.2,185.2 498.1,185.2 499.0,185.3 500.0,185.3 500.9,185.3 501.8,185.3 502.8,185.3 503.7,185.3 504.6,185.4 505.6,185.4 506.5,185.4 507.4,185.4 508.4,185.4 509.3,185.4 510.2,185.5 511.2,185.5 512.1,185.5 513.0,185.5 514.0,185.5 514.9,185.6 515.9,185.6 516.8,185.6 517.7,185.6 518.7,185.6 519.6,185.6 520.5,185.7 521.5,185.7 522.4,185.7 523.3,185.7 524.3,185.7 525.2,185.7 526.1,185.8 527.1,185.8 528.0,185.8 528.9,185.8 529.9,185.8 530.8,185.8 531.7,185.9 532.7,185.9 533.6,185.9 534.5,185.9 535.5,185.9 536.4,186.0 537.3,186.0 538.3,186.0 539.2,186.0" fill="none" stroke="#7d4129" stroke-width="1.6"/>
<path d="M297.3,180.8 298.2,180.8 299.2,180.8 300.1,180.8 301.0,180.8 302.0,180.8 302.9,180.8 303.8,180.8 304.8,180.8 305.7,180.8 306.6,180.8 307.6,180.8 308.5,180.8 309.4,180.8 310.4,180.8 311.3,180.8 312.2,180.8 313.2,180.8 314.1,180.8 315.0,180.8 316.0,180.8 316.9,180.7 317.8,180.7 318.8,180.7 319.7,180.7 320.6,180.6 321.6,180.6 322.5,180.6 323.5,180.5 324.4,180.5 325.3,180.4 326.3,180.3 327.2,180.3 328.1,180.2 329.1,180.1 330.0,180.0 330.9,179.8 331.9,179.7 332.8,179.5 333.7,179.4 334.7,179.2 335.6,178.9 336.5,178.7 337.5,178.4 338.4,178.1 339.3,177.7 340.3,177.4 341.2,176.9 342.1,176.5 343.1,175.9 344.0,175.4 344.9,174.7 345.9,174.1 346.8,173.3 347.7,172.5 348.7,171.6 349.6,170.7 350.5,169.7 351.5,168.6 352.4,167.4 353.3,166.1 354.3,164.8 355.2,163.3 356.1,161.8 357.1,160.2 358.0,158.5 358.9,156.8 359.9,154.9 360.8,153.0 361.7,151.0 362.7,148.9 363.6,146.7 364.5,144.5 365.5,142.3 366.4,139.9 367.3,137.6 368.3,135.2 369.2,132.8 370.2,130.4 371.1,127.9 372.0,125.5 373.0,123.2 373.9,120.8 374.8,118.5 375.8,116.3 376.7,114.2 377.6,112.1 378.6,110.2 379.5,108.4 380.4,106.7 381.4,105.2 382.3,103.9 383.2,102.7 384.2,101.7 385.1,101.0 386.0,100.4 387.0,100.1 387.9,99.9 388.8,100.0 389.8,100.2 390.7,100.6 391.6,101.2 392.6,101.9 393.5,102.7 394.4,103.7 395.4,104.8 396.3,106.1 397.2,107.5 398.2,109.0 399.1,110.7 400.0,112.4 401.0,114.3 401.9,116.2 402.8,118.2 403.8,120.2 404.7,122.3 405.6,124.5 406.6,126.7 407.5,128.9 408.4,131.1 409.4,133.4 410.3,135.6 411.2,137.9 412.2,140.1 413.1,142.3 414.0,144.4 415.0,146.5 415.9,148.6 416.8,150.6 417.8,152.6 418.7,154.5 419.7,156.4 420.6,158.2 421.5,159.9 422.5,161.5 423.4,163.1 424.3,164.6 425.3,166.1 426.2,167.4 427.1,168.7 428.1,169.9 429.0,171.1 429.9,172.2 430.9,173.2 431.8,174.1 432.7,175.0 433.7,175.8 434.6,176.6 435.5,177.3 436.5,178.0 437.4,178.6 438.3,179.1 439.3,179.7 440.2,180.1 441.1,180.6 442.1,181.0 443.0,181.3 443.9,181.7 444.9,182.0 445.8,182.2 446.7,182.5 447.7,182.7 448.6,182.9 449.5,183.1 450.5,183.3 451.4,183.4 452.3,183.6 453.3,183.7 454.2,183.8 455.1,183.9 456.1,184.0 457.0,184.1 457.9,184.1 458.9,184.2 459.8,184.3 460.7,184.3 461.7,184.4 462.6,184.4 463.5,184.5 464.5,184.5 465.4,184.5 466.3,184.6 467.3,184.6 468.2,184.6 469.2,184.6 470.1,184.7 471.0,184.7 472.0,184.7 472.9,184.7 473.8,184.8 474.8,184.8 475.7,184.8 476.6,184.8 477.6,184.8 478.5,184.9 479.4,184.9 480.4,184.9 481.3,184.9 482.2,184.9 483.2,185.0 484.1,185.0 485.0,185.0 486.0,185.0 486.9,185.0 487.8,185.0 488.8,185.1 489.7,185.1 490.6,185.1 491.6,185.1 492.5,185.1 493.4,185.2 494.4,185.2 495.3,185.2 496.2,185.2 497.2,185.2 498.1,185.2 499.0,185.3 500.0,185.3 500.9,185.3 501.8,185.3 502.8,185.3 503.7,185.3 504.6,185.4 505.6,185.4 506.5,185.4 507.4,185.4 508.4,185.4 509.3,185.4 510.2,185.5 511.2,185.5 512.1,185.5 513.0,185.5 514.0,185.5 514.9,185.6 515.9,185.6 516.8,185.6 517.7,185.6 518.7,185.6 519.6,185.6 520.5,185.7 521.5,185.7 522.4,185.7 523.3,185.7 524.3,185.7 525.2,185.7 526.1,185.8 527.1,185.8 528.0,185.8 528.9,185.8 529.9,185.8 530.8,185.8 531.7,185.9 532.7,185.9 533.6,185.9 534.5,185.9 535.5,185.9 536.4,186.0 537.3,186.0 538.3,186.0 539.2,186.0" fill="none" stroke="#7d4129" stroke-width="1.6"/>
<path d="M297.3,181.5 298.2,181.5 299.2,181.5 300.1,181.6 301.0,181.6 302.0,181.6 302.9,181.6 303.8,181.6 304.8,181.6 305.7,181.7 306.6,181.7 307.6,181.7 308.5,181.7 309.4,181.7 310.4,181.7 311.3,181.8 312.2,181.8 313.2,181.8 314.1,181.8 315.0,181.8 316.0,181.9 316.9,181.9 317.8,181.9 318.8,181.9 319.7,181.9 320.6,181.9 321.6,182.0 322.5,182.0 323.5,182.0 324.4,182.0 325.3,182.0 326.3,182.0 327.2,182.1 328.1,182.1 329.1,182.1 330.0,182.1 330.9,182.1 331.9,182.1 332.8,182.2 333.7,182.2 334.7,182.2 335.6,182.2 336.5,182.2 337.5,182.3 338.4,182.3 339.3,182.3 340.3,182.3 341.2,182.3 342.1,182.3 343.1,182.4 344.0,182.4 344.9,182.4 345.9,182.4 346.8,182.4 347.7,182.4 348.7,182.5 349.6,182.5 350.5,182.5 351.5,182.5 352.4,182.5 353.3,182.5 354.3,182.6 355.2,182.6 356.1,182.6 357.1,182.6 358.0,182.6 358.9,182.7 359.9,182.7 360.8,182.7 361.7,182.7 362.7,182.7 363.6,182.7 364.5,182.8 365.5,182.8 366.4,182.8 367.3,182.8 368.3,182.8 369.2,182.8 370.2,182.9 371.1,182.9 372.0,182.9 373.0,182.9 373.9,182.9 374.8,182.9 375.8,183.0 376.7,183.0 377.6,183.0 378.6,183.0 379.5,183.0 380.4,183.1 381.4,183.1 382.3,183.1 383.2,183.1 384.2,183.1 385.1,183.1 386.0,183.2 387.0,183.2 387.9,183.2 388.8,183.2 389.8,183.2 390.7,183.2 391.6,183.3 392.6,183.3 393.5,183.3 394.4,183.3 395.4,183.3 396.3,183.3 397.2,183.3 398.2,183.4 399.1,183.4 400.0,183.4 401.0,183.4 401.9,183.4 402.8,183.4 403.8,183.4 404.7,183.5 405.6,183.5 406.6,183.5 407.5,183.5 408.4,183.5 409.4,183.5 410.3,183.5 411.2,183.5 412.2,183.5 413.1,183.5 414.0,183.5 415.0,183.5 415.9,183.5 416.8,183.5 417.8,183.5 418.7,183.4 419.7,183.4 420.6,183.4 421.5,183.4 422.5,183.3 423.4,183.3 424.3,183.3 425.3,183.2 426.2,183.2 427.1,183.1 428.1,183.1 429.0,183.0 429.9,182.9 430.9,182.8 431.8,182.8 432.7,182.7 433.7,182.6 434.6,182.5 435.5,182.4 436.5,182.3 437.4,182.2 438.3,182.0 439.3,181.9 440.2,181.8 441.1,181.6 442.1,181.5 443.0,181.3 443.9,181.2 444.9,181.0 445.8,180.9 446.7,180.7 447.7,180.5 448.6,180.4 449.5,180.2 450.5,180.0 451.4,179.9 452.3,179.7 453.3,179.5 454.2,179.4 455.1,179.2 456.1,179.0 457.0,178.9 457.9,178.7 458.9,178.6 459.8,178.5 460.7,178.4 461.7,178.2 462.6,178.1 463.5,178.0 464.5,178.0 465.4,177.9 466.3,177.8 467.3,177.8 468.2,177.8 469.2,177.7 470.1,177.7 471.0,177.7 472.0,177.8 472.9,177.8 473.8,177.8 474.8,177.9 475.7,178.0 476.6,178.1 477.6,178.2 478.5,178.3 479.4,178.4 480.4,178.5 481.3,178.7 482.2,178.8 483.2,179.0 484.1,179.1 485.0,179.3 486.0,179.5 486.9,179.7 487.8,179.9 488.8,180.1 489.7,180.3 490.6,180.5 491.6,180.7 492.5,180.9 493.4,181.1 494.4,181.3 495.3,181.5 496.2,181.7 497.2,181.9 498.1,182.1 499.0,182.3 500.0,182.5 500.9,182.6 501.8,182.8 502.8,183.0 503.7,183.2 504.6,183.3 505.6,183.5 506.5,183.6 507.4,183.8 508.4,183.9 509.3,184.0 510.2,184.2 511.2,184.3 512.1,184.4 513.0,184.5 514.0,184.6 514.9,184.7 515.9,184.8 516.8,184.9 517.7,185.0 518.7,185.0 519.6,185.1 520.5,185.2 521.5,185.2 522.4,185.3 523.3,185.4 524.3,185.4 525.2,185.5 526.1,185.5 527.1,185.6 528.0,185.6 528.9,185.6 529.9,185.7 530.8,185.7 531.7,185.7 532.7,185.8 533.6,185.8 534.5,185.8 535.5,185.9 536.4,185.9 537.3,185.9 538.3,185.9 539.2,186.0" fill="none" stroke="#7d4129" stroke-width="1.6"/>
<path d="M297.3,180.8 298.2,180.8 299.2,180.8 300.1,180.8 301.0,180.8 302.0,180.8 302.9,180.8 303.8,180.8 304.8,180.8 305.7,180.8 306.6,180.8 307.6,180.8 308.5,180.8 309.4,180.8 310.4,180.8 311.3,180.8 312.2,180.8 313.2,180.8 314.1,180.8 315.0,180.8 316.0,180.8 316.9,180.7 317.8,180.7 318.8,180.7 319.7,180.7 320.6,180.6 321.6,180.6 322.5,180.6 323.5,180.5 324.4,180.5 325.3,180.4 326.3,180.3 327.2,180.3 328.1,180.2 329.1,180.1 330.0,180.0 330.9,179.8 331.9,179.7 332.8,179.5 333.7,179.4 334.7,179.2 335.6,178.9 336.5,178.7 337.5,178.4 338.4,178.1 339.3,177.7 340.3,177.4 341.2,176.9 342.1,176.5 343.1,175.9 344.0,175.4 344.9,174.7 345.9,174.1 346.8,173.3 347.7,172.5 348.7,171.6 349.6,170.7 350.5,169.7 351.5,168.6 352.4,167.4 353.3,166.1 354.3,164.8 355.2,163.3 356.1,161.8 357.1,160.2 358.0,158.5 358.9,156.8 359.9,154.9 360.8,153.0 361.7,151.0 362.7,148.9 363.6,146.7 364.5,144.5 365.5,142.3 366.4,139.9 367.3,137.6 368.3,135.2 369.2,132.8 370.2,130.4 371.1,127.9 372.0,125.5 373.0,123.2 373.9,120.8 374.8,118.5 375.8,116.3 376.7,114.2 377.6,112.1 378.6,110.2 379.5,108.4 380.4,106.7 381.4,105.2 382.3,103.9 383.2,102.7 384.2,101.7 385.1,101.0 386.0,100.4 387.0,100.1 387.9,99.9 388.8,100.0 389.8,100.2 390.7,100.6 391.6,101.1 392.6,101.8 393.5,102.7 394.4,103.7 395.4,104.8 396.3,106.1 397.2,107.5 398.2,109.0 399.1,110.7 400.0,112.4 401.0,114.2 401.9,116.1 402.8,118.1 403.8,120.2 404.7,122.3 405.6,124.4 406.6,126.6 407.5,128.8 408.4,131.0 409.4,133.3 410.3,135.5 411.2,137.7 412.2,139.9 413.1,142.1 414.0,144.2 415.0,146.3 415.9,148.4 416.8,150.4 417.8,152.3 418.7,154.2 419.7,156.0 420.6,157.8 421.5,159.4 422.5,161.0 423.4,162.6 424.3,164.0 425.3,165.4 426.2,166.7 427.1,167.9 428.1,169.0 429.0,170.1 429.9,171.1 430.9,172.0 431.8,172.9 432.7,173.7 433.7,174.4 434.6,175.0 435.5,175.6 436.5,176.2 437.4,176.6 438.3,177.0 439.3,177.4 440.2,177.7 441.1,178.0 442.1,178.3 443.0,178.5 443.9,178.6 444.9,178.7 445.8,178.8 446.7,178.9 447.7,178.9 448.6,179.0 449.5,179.0 450.5,178.9 451.4,178.9 452.3,178.9 453.3,178.8 454.2,178.7 455.1,178.6 456.1,178.6 457.0,178.5 457.9,178.4 458.9,178.3 459.8,178.2 460.7,178.1 461.7,178.0 462.6,178.0 463.5,177.9 464.5,177.8 465.4,177.8 466.3,177.7 467.3,177.7 468.2,177.7 469.2,177.7 470.1,177.7 471.0,177.7 472.0,177.7 472.9,177.8 473.8,177.8 474.8,177.9 475.7,178.0 476.6,178.0 477.6,178.1 478.5,178.3 479.4,178.4 480.4,178.5 481.3,178.7 482.2,178.8 483.2,179.0 484.1,179.1 485.0,179.3 486.0,179.5 486.9,179.7 487.8,179.9 488.8,180.1 489.7,180.3 490.6,180.5 491.6,180.7 492.5,180.9 493.4,181.1 494.4,181.3 495.3,181.5 496.2,181.7 497.2,181.9 498.1,182.1 499.0,182.3 500.0,182.5 500.9,182.6 501.8,182.8 502.8,183.0 503.7,183.2 504.6,183.3 505.6,183.5 506.5,183.6 507.4,183.8 508.4,183.9 509.3,184.0 510.2,184.2 511.2,184.3 512.1,184.4 513.0,184.5 514.0,184.6 514.9,184.7 515.9,184.8 516.8,184.9 517.7,185.0 518.7,185.0 519.6,185.1 520.5,185.2 521.5,185.2 522.4,185.3 523.3,185.4 524.3,185.4 525.2,185.5 526.1,185.5 527.1,185.6 528.0,185.6 528.9,185.6 529.9,185.7 530.8,185.7 531.7,185.7 532.7,185.8 533.6,185.8 534.5,185.8 535.5,185.9 536.4,185.9 537.3,185.9 538.3,185.9 539.2,186.0" fill="none" stroke="#7d4129" stroke-width="2.0"/>
<path d="M389.4,3.5 V198.5 M472.6,3.5 V29.5 M472.6,50 V112 M472.6,134 V198.5" stroke="#333" stroke-width="1.4" stroke-dasharray="3.3,3"/>
<rect x="297.3" y="2.6" width="241.90" height="196.70" fill="none" stroke="#111" stroke-width="1.9"/>
<path d="M345.68,199.3 v-4 M394.06,199.3 v-4 M442.44,199.3 v-4 M490.82,199.3 v-4 M321.49,199.3 v-2.3 M369.87,199.3 v-2.3 M418.25,199.3 v-2.3 M466.63,199.3 v-2.3 M515.01,199.3 v-2.3 " stroke="#111" stroke-width="1.5" fill="none"/>
<text transform="translate(297.30,210.8) scale(1.0,1.06)" font-size="9" text-anchor="middle" fill="#111">292</text>
<text transform="translate(345.68,210.8) scale(1.0,1.06)" font-size="9" text-anchor="middle" fill="#111">290</text>
<text transform="translate(394.06,210.8) scale(1.0,1.06)" font-size="9" text-anchor="middle" fill="#111">288</text>
<text transform="translate(442.44,210.8) scale(1.0,1.06)" font-size="9" text-anchor="middle" fill="#111">286</text>
<text transform="translate(490.82,210.8) scale(1.0,1.06)" font-size="9" text-anchor="middle" fill="#111">284</text>
<text transform="translate(539.20,210.8) scale(1.0,1.06)" font-size="9" text-anchor="middle" fill="#111">282</text>
<text transform="translate(305.34,27.50) scale(0.982,1)" font-size="19.59" fill="#111" stroke="#111" stroke-width="0">(b)</text>
<text transform="translate(401.09,16.60) scale(1.000,1)" font-size="10.14" fill="#111" stroke="#111" stroke-width="0">C-N-C</text>
<text transform="translate(511.35,17.50) scale(0.974,1)" font-size="11.43" fill="#111" stroke="#111" stroke-width="0">C 1s</text>
<text transform="translate(460.85,43.80) scale(1.014,1)" font-size="11.00" fill="#111" stroke="#111" stroke-width="0">g-C<tspan font-size="5.50" dx="0.44" dy="4.62">3</tspan><tspan dx="0.44" dy="-4.62">N</tspan><tspan font-size="5.50" dx="0.44" dy="4.62">4</tspan></text>
<text transform="translate(485.79,77.00) scale(0.979,1)" font-size="10.57" fill="#111" stroke="#111" stroke-width="0">C-C</text>
<text transform="translate(398.49,107.60) scale(0.941,1)" font-size="10.86" fill="#744030" stroke="#744030" stroke-width="0">C-N-C</text>
<text transform="translate(449.54,130.20) scale(0.978,1)" font-size="11.14" fill="#744030" stroke="#744030" stroke-width="0">PQDs-g-C<tspan font-size="5.57" dx="0.45" dy="4.68">3</tspan><tspan dx="0.45" dy="-4.68">N</tspan><tspan font-size="5.57" dx="0.45" dy="4.68">4</tspan></text>
<text transform="translate(484.39,167.80) scale(0.953,1)" font-size="10.86" fill="#744030" stroke="#744030" stroke-width="0">C-C</text>
<text transform="translate(366.22,223.60) scale(1.068,1)" font-size="10.41" fill="#111" stroke="#111" stroke-width="0">Binding Energy (eV)</text>
<text transform="translate(287.20,145.38) rotate(-90) scale(1.034,1)" font-size="10.82" fill="#111" stroke="#111" stroke-width="0">Intensity (a.u.)</text>
<path d="M20.2,313.9 21.1,313.9 22.1,313.9 23.0,313.9 23.9,313.9 24.9,313.9 25.8,313.9 26.7,313.9 27.7,313.9 28.6,313.9 29.5,313.9 30.5,313.9 31.4,313.9 32.3,313.9 33.3,313.9 34.2,313.9 35.1,313.9 36.1,313.9 37.0,313.9 37.9,313.9 38.8,313.9 39.8,313.9 40.7,313.9 41.6,313.9 42.6,313.9 43.5,313.9 44.4,313.9 45.4,313.9 46.3,313.9 47.2,313.9 48.2,313.9 49.1,313.9 50.0,313.9 51.0,313.9 51.9,313.9 52.8,313.9 53.8,313.9 54.7,313.9 55.6,313.9 56.6,313.9 57.5,313.9 58.4,313.9 59.4,313.9 60.3,313.9 61.2,314.0 62.2,314.0 63.1,314.0 64.0,314.0 65.0,314.0 65.9,314.0 66.8,314.0 67.8,314.0 68.7,314.0 69.6,314.0 70.6,314.0 71.5,314.0 72.4,314.0 73.3,314.0 74.3,314.0 75.2,314.0 76.1,314.0 77.1,314.0 78.0,314.0 78.9,314.0 79.9,314.0 80.8,314.0 81.7,314.0 82.7,314.0 83.6,314.0 84.5,314.0 85.5,314.0 86.4,314.0 87.3,314.0 88.3,314.0 89.2,314.0 90.1,314.0 91.1,314.0 92.0,314.0 92.9,314.0 93.9,314.0 94.8,314.1 95.7,314.1 96.7,314.1 97.6,314.1 98.5,314.1 99.5,314.1 100.4,314.1 101.3,314.1 102.3,314.1 103.2,314.1 104.1,314.1 105.1,314.1 106.0,314.1 106.9,314.1 107.8,314.1 108.8,314.1 109.7,314.1 110.6,314.1 111.6,314.1 112.5,314.1 113.4,314.1 114.4,314.1 115.3,314.1 116.2,314.1 117.2,314.1 118.1,314.1 119.0,314.1 120.0,314.1 120.9,314.1 121.8,314.1 122.8,314.1 123.7,314.1 124.6,314.1 125.6,314.1 126.5,314.1 127.4,314.1 128.4,314.1 129.3,314.1 130.2,314.1 131.2,314.1 132.1,314.1 133.0,314.2 134.0,314.2 134.9,314.2 135.8,314.2 136.8,314.2 137.7,314.2 138.6,314.2 139.6,314.2 140.5,314.3 141.4,314.3 142.3,314.3 143.3,314.3 144.2,314.3 145.1,314.3 146.1,314.4 147.0,314.4 147.9,314.4 148.9,314.4 149.8,314.4 150.7,314.5 151.7,314.5 152.6,314.5 153.5,314.5 154.5,314.6 155.4,314.6 156.3,314.6 157.3,314.6 158.2,314.7 159.1,314.7 160.1,314.7 161.0,314.7 161.9,314.8 162.9,314.8 163.8,314.8 164.7,314.9 165.7,314.9 166.6,314.9 167.5,315.0 168.5,315.0 169.4,315.0 170.3,315.1 171.3,315.1 172.2,315.2 173.1,315.2 174.1,315.3 175.0,315.3 175.9,315.4 176.8,315.4 177.8,315.5 178.7,315.6 179.6,315.6 180.6,315.7 181.5,315.8 182.4,315.8 183.4,315.9 184.3,316.0 185.2,316.1 186.2,316.1 187.1,316.2 188.0,316.3 189.0,316.4 189.9,316.5 190.8,316.6 191.8,316.6 192.7,316.7 193.6,316.8 194.6,316.9 195.5,317.0 196.4,317.1 197.4,317.2 198.3,317.2 199.2,317.3 200.2,317.4 201.1,317.5 202.0,317.6 203.0,317.7 203.9,317.8 204.8,317.8 205.8,317.9 206.7,318.0 207.6,318.1 208.6,318.1 209.5,318.2 210.4,318.3 211.3,318.3 212.3,318.4 213.2,318.5 214.1,318.5 215.1,318.6 216.0,318.6 216.9,318.7 217.9,318.7 218.8,318.8 219.7,318.8 220.7,318.9 221.6,318.9 222.5,318.9 223.5,319.0 224.4,319.0 225.3,319.0 226.3,319.1 227.2,319.1 228.1,319.1 229.1,319.2 230.0,319.2 230.9,319.2 231.9,319.2 232.8,319.2 233.7,319.2 234.7,319.3 235.6,319.3 236.5,319.3 237.5,319.3 238.4,319.3 239.3,319.3 240.3,319.3 241.2,319.3 242.1,319.3 243.1,319.4 244.0,319.4 244.9,319.4 245.8,319.4 246.8,319.4 247.7,319.4 248.6,319.4 249.6,319.4 250.5,319.4 251.4,319.4 252.4,319.4 253.3,319.4 254.2,319.4 255.2,319.4 256.1,319.4 257.0,319.4 258.0,319.4 258.9,319.4 259.8,319.4 260.8,319.4 261.7,319.4" fill="none" stroke="#111" stroke-width="1.6"/>
<path d="M20.2,313.9 21.1,313.9 22.1,313.9 23.0,313.9 23.9,313.9 24.9,313.9 25.8,313.9 26.7,313.9 27.7,313.9 28.6,313.9 29.5,313.9 30.5,313.9 31.4,313.9 32.3,313.9 33.3,313.9 34.2,313.9 35.1,313.9 36.1,313.9 37.0,313.9 37.9,313.9 38.8,313.9 39.8,313.9 40.7,313.9 41.6,313.9 42.6,313.9 43.5,313.9 44.4,313.9 45.4,313.9 46.3,313.9 47.2,313.9 48.2,313.9 49.1,313.9 50.0,313.9 51.0,313.9 51.9,313.9 52.8,313.9 53.8,313.9 54.7,313.9 55.6,313.9 56.6,313.9 57.5,313.9 58.4,313.9 59.4,313.9 60.3,313.9 61.2,314.0 62.2,314.0 63.1,314.0 64.0,314.0 65.0,314.0 65.9,314.0 66.8,314.0 67.8,314.0 68.7,314.0 69.6,314.0 70.6,314.0 71.5,314.0 72.4,314.0 73.3,314.0 74.3,314.0 75.2,314.0 76.1,314.0 77.1,314.0 78.0,314.0 78.9,314.0 79.9,314.0 80.8,314.0 81.7,314.0 82.7,314.0 83.6,314.0 84.5,314.0 85.5,314.0 86.4,314.0 87.3,314.0 88.3,314.0 89.2,314.0 90.1,314.0 91.1,314.0 92.0,314.0 92.9,314.0 93.9,314.0 94.8,314.0 95.7,314.1 96.7,314.1 97.6,314.1 98.5,314.1 99.5,314.1 100.4,314.1 101.3,314.1 102.3,314.1 103.2,314.1 104.1,314.1 105.1,314.1 106.0,314.1 106.9,314.1 107.8,314.1 108.8,314.1 109.7,314.1 110.6,314.1 111.6,314.1 112.5,314.1 113.4,314.1 114.4,314.1 115.3,314.0 116.2,314.0 117.2,314.0 118.1,314.0 119.0,314.0 120.0,314.0 120.9,314.0 121.8,314.0 122.8,314.0 123.7,314.0 124.6,314.0 125.6,313.9 126.5,313.9 127.4,313.9 128.4,313.9 129.3,313.8 130.2,313.8 131.2,313.7 132.1,313.7 133.0,313.6 134.0,313.5 134.9,313.5 135.8,313.4 136.8,313.3 137.7,313.1 138.6,313.0 139.6,312.8 140.5,312.7 141.4,312.5 142.3,312.3 143.3,312.0 144.2,311.7 145.1,311.4 146.1,311.1 147.0,310.7 147.9,310.3 148.9,309.9 149.8,309.4 150.7,308.9 151.7,308.3 152.6,307.7 153.5,307.0 154.5,306.3 155.4,305.5 156.3,304.7 157.3,303.8 158.2,302.9 159.1,301.9 160.1,300.8 161.0,299.7 161.9,298.5 162.9,297.3 163.8,296.0 164.7,294.6 165.7,293.2 166.6,291.8 167.5,290.2 168.5,288.7 169.4,287.1 170.3,285.5 171.3,283.8 172.2,282.2 173.1,280.5 174.1,278.8 175.0,277.1 175.9,275.4 176.8,273.7 177.8,272.0 178.7,270.3 179.6,268.7 180.6,267.2 181.5,265.7 182.4,264.2 183.4,262.9 184.3,261.6 185.2,260.4 186.2,259.3 187.1,258.3 188.0,257.4 189.0,256.6 189.9,255.9 190.8,255.4 191.8,254.9 192.7,254.7 193.6,254.5 194.6,254.5 195.5,254.6 196.4,254.9 197.4,255.2 198.3,255.7 199.2,256.3 200.2,257.1 201.1,257.9 202.0,258.9 203.0,259.9 203.9,261.1 204.8,262.3 205.8,263.6 206.7,265.1 207.6,266.5 208.6,268.1 209.5,269.7 210.4,271.3 211.3,273.0 212.3,274.7 213.2,276.4 214.1,278.2 215.1,279.9 216.0,281.7 216.9,283.4 217.9,285.2 218.8,286.9 219.7,288.6 220.7,290.2 221.6,291.9 222.5,293.5 223.5,295.0 224.4,296.5 225.3,298.0 226.3,299.4 227.2,300.7 228.1,302.0 229.1,303.2 230.0,304.4 230.9,305.5 231.9,306.6 232.8,307.6 233.7,308.6 234.7,309.4 235.6,310.3 236.5,311.1 237.5,311.8 238.4,312.5 239.3,313.1 240.3,313.7 241.2,314.2 242.1,314.7 243.1,315.2 244.0,315.6 244.9,316.0 245.8,316.4 246.8,316.7 247.7,317.0 248.6,317.2 249.6,317.5 250.5,317.7 251.4,317.9 252.4,318.1 253.3,318.2 254.2,318.4 255.2,318.5 256.1,318.6 257.0,318.7 258.0,318.8 258.9,318.9 259.8,318.9 260.8,319.0 261.7,319.1" fill="none" stroke="#111" stroke-width="1.6"/>
<path d="M20.2,313.9 21.1,313.9 22.1,313.9 23.0,313.9 23.9,313.9 24.9,313.9 25.8,313.9 26.7,313.9 27.7,313.9 28.6,313.9 29.5,313.9 30.5,313.9 31.4,313.9 32.3,313.9 33.3,313.9 34.2,313.9 35.1,313.9 36.1,313.9 37.0,313.9 37.9,313.9 38.8,313.9 39.8,313.9 40.7,313.9 41.6,313.9 42.6,313.9 43.5,313.9 44.4,313.9 45.4,313.9 46.3,313.9 47.2,313.9 48.2,313.9 49.1,313.9 50.0,313.9 51.0,313.9 51.9,313.9 52.8,313.9 53.8,313.9 54.7,313.9 55.6,313.9 56.6,313.9 57.5,313.9 58.4,313.9 59.4,313.9 60.3,313.9 61.2,314.0 62.2,314.0 63.1,314.0 64.0,314.0 65.0,314.0 65.9,314.0 66.8,314.0 67.8,314.0 68.7,314.0 69.6,314.0 70.6,314.0 71.5,314.0 72.4,314.0 73.3,314.0 74.3,314.0 75.2,314.0 76.1,314.0 77.1,314.0 78.0,314.0 78.9,314.0 79.9,314.0 80.8,314.0 81.7,314.0 82.7,314.0 83.6,314.0 84.5,314.0 85.5,314.0 86.4,314.0 87.3,314.0 88.3,314.0 89.2,314.0 90.1,314.0 91.1,314.0 92.0,314.0 92.9,314.0 93.9,314.0 94.8,314.0 95.7,314.0 96.7,314.0 97.6,314.0 98.5,314.0 99.5,314.0 100.4,314.0 101.3,314.0 102.3,314.0 103.2,314.0 104.1,314.0 105.1,313.9 106.0,313.9 106.9,313.9 107.8,313.9 108.8,313.8 109.7,313.8 110.6,313.7 111.6,313.6 112.5,313.6 113.4,313.5 114.4,313.4 115.3,313.2 116.2,313.1 117.2,313.0 118.1,312.8 119.0,312.6 120.0,312.4 120.9,312.2 121.8,311.9 122.8,311.6 123.7,311.3 124.6,311.0 125.6,310.7 126.5,310.3 127.4,309.9 128.4,309.6 129.3,309.1 130.2,308.7 131.2,308.3 132.1,307.9 133.0,307.4 134.0,307.0 134.9,306.6 135.8,306.2 136.8,305.8 137.7,305.4 138.6,305.1 139.6,304.8 140.5,304.5 141.4,304.3 142.3,304.1 143.3,303.9 144.2,303.8 145.1,303.8 146.1,303.8 147.0,303.8 147.9,303.9 148.9,304.1 149.8,304.3 150.7,304.5 151.7,304.8 152.6,305.1 153.5,305.4 154.5,305.8 155.4,306.2 156.3,306.7 157.3,307.1 158.2,307.6 159.1,308.0 160.1,308.5 161.0,309.0 161.9,309.4 162.9,309.9 163.8,310.3 164.7,310.8 165.7,311.2 166.6,311.6 167.5,311.9 168.5,312.3 169.4,312.6 170.3,313.0 171.3,313.3 172.2,313.5 173.1,313.8 174.1,314.0 175.0,314.2 175.9,314.5 176.8,314.6 177.8,314.8 178.7,315.0 179.6,315.1 180.6,315.3 181.5,315.4 182.4,315.5 183.4,315.7 184.3,315.8 185.2,315.9 186.2,316.0 187.1,316.1 188.0,316.2 189.0,316.3 189.9,316.4 190.8,316.5 191.8,316.6 192.7,316.7 193.6,316.8 194.6,316.9 195.5,317.0 196.4,317.1 197.4,317.2 198.3,317.2 199.2,317.3 200.2,317.4 201.1,317.5 202.0,317.6 203.0,317.7 203.9,317.8 204.8,317.8 205.8,317.9 206.7,318.0 207.6,318.1 208.6,318.1 209.5,318.2 210.4,318.3 211.3,318.3 212.3,318.4 213.2,318.5 214.1,318.5 215.1,318.6 216.0,318.6 216.9,318.7 217.9,318.7 218.8,318.8 219.7,318.8 220.7,318.9 221.6,318.9 222.5,318.9 223.5,319.0 224.4,319.0 225.3,319.0 226.3,319.1 227.2,319.1 228.1,319.1 229.1,319.2 230.0,319.2 230.9,319.2 231.9,319.2 232.8,319.2 233.7,319.2 234.7,319.3 235.6,319.3 236.5,319.3 237.5,319.3 238.4,319.3 239.3,319.3 240.3,319.3 241.2,319.3 242.1,319.3 243.1,319.4 244.0,319.4 244.9,319.4 245.8,319.4 246.8,319.4 247.7,319.4 248.6,319.4 249.6,319.4 250.5,319.4 251.4,319.4 252.4,319.4 253.3,319.4 254.2,319.4 255.2,319.4 256.1,319.4 257.0,319.4 258.0,319.4 258.9,319.4 259.8,319.4 260.8,319.4 261.7,319.4" fill="none" stroke="#111" stroke-width="1.6"/>
<path d="M20.2,313.9 21.1,313.9 22.1,313.9 23.0,313.9 23.9,313.9 24.9,313.9 25.8,313.9 26.7,313.9 27.7,313.9 28.6,313.9 29.5,313.8 30.5,313.8 31.4,313.8 32.3,313.8 33.3,313.8 34.2,313.8 35.1,313.8 36.1,313.7 37.0,313.7 37.9,313.7 38.8,313.7 39.8,313.6 40.7,313.6 41.6,313.5 42.6,313.5 43.5,313.5 44.4,313.4 45.4,313.4 46.3,313.3 47.2,313.3 48.2,313.2 49.1,313.1 50.0,313.1 51.0,313.0 51.9,312.9 52.8,312.9 53.8,312.8 54.7,312.7 55.6,312.7 56.6,312.6 57.5,312.5 58.4,312.4 59.4,312.4 60.3,312.3 61.2,312.2 62.2,312.2 63.1,312.1 64.0,312.0 65.0,312.0 65.9,311.9 66.8,311.9 67.8,311.8 68.7,311.8 69.6,311.8 70.6,311.7 71.5,311.7 72.4,311.7 73.3,311.7 74.3,311.7 75.2,311.7 76.1,311.7 77.1,311.7 78.0,311.8 78.9,311.8 79.9,311.8 80.8,311.9 81.7,311.9 82.7,312.0 83.6,312.1 84.5,312.1 85.5,312.2 86.4,312.3 87.3,312.3 88.3,312.4 89.2,312.5 90.1,312.6 91.1,312.7 92.0,312.7 92.9,312.8 93.9,312.9 94.8,313.0 95.7,313.0 96.7,313.1 97.6,313.2 98.5,313.2 99.5,313.3 100.4,313.4 101.3,313.4 102.3,313.5 103.2,313.5 104.1,313.6 105.1,313.6 106.0,313.7 106.9,313.7 107.8,313.7 108.8,313.8 109.7,313.8 110.6,313.8 111.6,313.9 112.5,313.9 113.4,313.9 114.4,313.9 115.3,314.0 116.2,314.0 117.2,314.0 118.1,314.0 119.0,314.0 120.0,314.0 120.9,314.0 121.8,314.0 122.8,314.1 123.7,314.1 124.6,314.1 125.6,314.1 126.5,314.1 127.4,314.1 128.4,314.1 129.3,314.1 130.2,314.1 131.2,314.1 132.1,314.1 133.0,314.2 134.0,314.2 134.9,314.2 135.8,314.2 136.8,314.2 137.7,314.2 138.6,314.2 139.6,314.2 140.5,314.3 141.4,314.3 142.3,314.3 143.3,314.3 144.2,314.3 145.1,314.3 146.1,314.4 147.0,314.4 147.9,314.4 148.9,314.4 149.8,314.4 150.7,314.5 151.7,314.5 152.6,314.5 153.5,314.5 154.5,314.6 155.4,314.6 156.3,314.6 157.3,314.6 158.2,314.7 159.1,314.7 160.1,314.7 161.0,314.7 161.9,314.8 162.9,314.8 163.8,314.8 164.7,314.9 165.7,314.9 166.6,314.9 167.5,315.0 168.5,315.0 169.4,315.0 170.3,315.1 171.3,315.1 172.2,315.2 173.1,315.2 174.1,315.3 175.0,315.3 175.9,315.4 176.8,315.4 177.8,315.5 178.7,315.6 179.6,315.6 180.6,315.7 181.5,315.8 182.4,315.8 183.4,315.9 184.3,316.0 185.2,316.1 186.2,316.1 187.1,316.2 188.0,316.3 189.0,316.4 189.9,316.5 190.8,316.6 191.8,316.6 192.7,316.7 193.6,316.8 194.6,316.9 195.5,317.0 196.4,317.1 197.4,317.2 198.3,317.2 199.2,317.3 200.2,317.4 201.1,317.5 202.0,317.6 203.0,317.7 203.9,317.8 204.8,317.8 205.8,317.9 206.7,318.0 207.6,318.1 208.6,318.1 209.5,318.2 210.4,318.3 211.3,318.3 212.3,318.4 213.2,318.5 214.1,318.5 215.1,318.6 216.0,318.6 216.9,318.7 217.9,318.7 218.8,318.8 219.7,318.8 220.7,318.9 221.6,318.9 222.5,318.9 223.5,319.0 224.4,319.0 225.3,319.0 226.3,319.1 227.2,319.1 228.1,319.1 229.1,319.2 230.0,319.2 230.9,319.2 231.9,319.2 232.8,319.2 233.7,319.2 234.7,319.3 235.6,319.3 236.5,319.3 237.5,319.3 238.4,319.3 239.3,319.3 240.3,319.3 241.2,319.3 242.1,319.3 243.1,319.4 244.0,319.4 244.9,319.4 245.8,319.4 246.8,319.4 247.7,319.4 248.6,319.4 249.6,319.4 250.5,319.4 251.4,319.4 252.4,319.4 253.3,319.4 254.2,319.4 255.2,319.4 256.1,319.4 257.0,319.4 258.0,319.4 258.9,319.4 259.8,319.4 260.8,319.4 261.7,319.4" fill="none" stroke="#111" stroke-width="1.6"/>
<path d="M20.2,313.9 21.1,313.9 22.1,313.9 23.0,313.9 23.9,313.9 24.9,313.9 25.8,313.9 26.7,313.9 27.7,313.9 28.6,313.9 29.5,313.8 30.5,313.8 31.4,313.8 32.3,313.8 33.3,313.8 34.2,313.8 35.1,313.8 36.1,313.7 37.0,313.7 37.9,313.7 38.8,313.7 39.8,313.6 40.7,313.6 41.6,313.5 42.6,313.5 43.5,313.5 44.4,313.4 45.4,313.4 46.3,313.3 47.2,313.3 48.2,313.2 49.1,313.1 50.0,313.1 51.0,313.0 51.9,312.9 52.8,312.9 53.8,312.8 54.7,312.7 55.6,312.7 56.6,312.6 57.5,312.5 58.4,312.4 59.4,312.4 60.3,312.3 61.2,312.2 62.2,312.2 63.1,312.1 64.0,312.0 65.0,312.0 65.9,311.9 66.8,311.9 67.8,311.8 68.7,311.8 69.6,311.8 70.6,311.7 71.5,311.7 72.4,311.7 73.3,311.7 74.3,311.7 75.2,311.7 76.1,311.7 77.1,311.7 78.0,311.8 78.9,311.8 79.9,311.8 80.8,311.9 81.7,311.9 82.7,312.0 83.6,312.1 84.5,312.1 85.5,312.2 86.4,312.3 87.3,312.3 88.3,312.4 89.2,312.5 90.1,312.6 91.1,312.7 92.0,312.7 92.9,312.8 93.9,312.9 94.8,313.0 95.7,313.0 96.7,313.1 97.6,313.2 98.5,313.2 99.5,313.3 100.4,313.3 101.3,313.4 102.3,313.4 103.2,313.5 104.1,313.5 105.1,313.5 106.0,313.5 106.9,313.5 107.8,313.5 108.8,313.5 109.7,313.5 110.6,313.5 111.6,313.4 112.5,313.4 113.4,313.3 114.4,313.2 115.3,313.1 116.2,313.0 117.2,312.8 118.1,312.7 119.0,312.5 120.0,312.3 120.9,312.0 121.8,311.8 122.8,311.5 123.7,311.2 124.6,310.9 125.6,310.5 126.5,310.1 127.4,309.7 128.4,309.3 129.3,308.8 130.2,308.4 131.2,307.9 132.1,307.4 133.0,306.9 134.0,306.4 134.9,305.9 135.8,305.4 136.8,304.8 137.7,304.3 138.6,303.9 139.6,303.4 140.5,302.9 141.4,302.5 142.3,302.0 143.3,301.6 144.2,301.2 145.1,300.9 146.1,300.5 147.0,300.2 147.9,299.9 148.9,299.5 149.8,299.2 150.7,298.9 151.7,298.6 152.6,298.3 153.5,297.9 154.5,297.6 155.4,297.2 156.3,296.8 157.3,296.3 158.2,295.8 159.1,295.2 160.1,294.6 161.0,293.9 161.9,293.2 162.9,292.4 163.8,291.5 164.7,290.5 165.7,289.5 166.6,288.4 167.5,287.2 168.5,286.0 169.4,284.7 170.3,283.4 171.3,282.0 172.2,280.5 173.1,279.0 174.1,277.5 175.0,276.0 175.9,274.4 176.8,272.9 177.8,271.3 178.7,269.8 179.6,268.3 180.6,266.8 181.5,265.3 182.4,263.9 183.4,262.6 184.3,261.4 185.2,260.2 186.2,259.1 187.1,258.1 188.0,257.3 189.0,256.5 189.9,255.8 190.8,255.3 191.8,254.9 192.7,254.6 193.6,254.5 194.6,254.5 195.5,254.6 196.4,254.9 197.4,255.2 198.3,255.7 199.2,256.3 200.2,257.1 201.1,257.9 202.0,258.9 203.0,259.9 203.9,261.1 204.8,262.3 205.8,263.6 206.7,265.1 207.6,266.5 208.6,268.1 209.5,269.7 210.4,271.3 211.3,273.0 212.3,274.7 213.2,276.4 214.1,278.2 215.1,279.9 216.0,281.7 216.9,283.4 217.9,285.2 218.8,286.9 219.7,288.6 220.7,290.2 221.6,291.9 222.5,293.5 223.5,295.0 224.4,296.5 225.3,298.0 226.3,299.4 227.2,300.7 228.1,302.0 229.1,303.2 230.0,304.4 230.9,305.5 231.9,306.6 232.8,307.6 233.7,308.6 234.7,309.4 235.6,310.3 236.5,311.1 237.5,311.8 238.4,312.5 239.3,313.1 240.3,313.7 241.2,314.2 242.1,314.7 243.1,315.2 244.0,315.6 244.9,316.0 245.8,316.4 246.8,316.7 247.7,317.0 248.6,317.2 249.6,317.5 250.5,317.7 251.4,317.9 252.4,318.1 253.3,318.2 254.2,318.4 255.2,318.5 256.1,318.6 257.0,318.7 258.0,318.8 258.9,318.9 259.8,318.9 260.8,319.0 261.7,319.1" fill="none" stroke="#111" stroke-width="2.2"/>
<path d="M20.2,418.0 21.1,418.0 22.1,418.0 23.0,418.0 23.9,418.0 24.9,418.0 25.8,418.0 26.7,418.0 27.7,418.0 28.6,418.0 29.5,418.0 30.5,418.0 31.4,418.0 32.3,418.0 33.3,418.0 34.2,418.0 35.1,418.0 36.1,418.0 37.0,418.0 37.9,418.0 38.8,418.0 39.8,418.0 40.7,418.0 41.6,418.0 42.6,418.0 43.5,418.0 44.4,418.0 45.4,418.0 46.3,418.0 47.2,418.0 48.2,418.0 49.1,418.0 50.0,418.0 51.0,418.0 51.9,418.0 52.8,418.0 53.8,418.0 54.7,418.0 55.6,418.0 56.6,418.0 57.5,418.1 58.4,418.1 59.4,418.1 60.3,418.1 61.2,418.1 62.2,418.1 63.1,418.1 64.0,418.1 65.0,418.1 65.9,418.1 66.8,418.1 67.8,418.1 68.7,418.1 69.6,418.1 70.6,418.1 71.5,418.1 72.4,418.1 73.3,418.1 74.3,418.1 75.2,418.1 76.1,418.1 77.1,418.1 78.0,418.1 78.9,418.1 79.9,418.1 80.8,418.2 81.7,418.2 82.7,418.2 83.6,418.2 84.5,418.2 85.5,418.2 86.4,418.2 87.3,418.2 88.3,418.2 89.2,418.2 90.1,418.2 91.1,418.2 92.0,418.2 92.9,418.2 93.9,418.2 94.8,418.2 95.7,418.2 96.7,418.2 97.6,418.2 98.5,418.2 99.5,418.2 100.4,418.2 101.3,418.2 102.3,418.2 103.2,418.2 104.1,418.2 105.1,418.2 106.0,418.2 106.9,418.2 107.8,418.2 108.8,418.2 109.7,418.2 110.6,418.2 111.6,418.2 112.5,418.3 113.4,418.3 114.4,418.3 115.3,418.3 116.2,418.3 117.2,418.3 118.1,418.3 119.0,418.3 120.0,418.3 120.9,418.3 121.8,418.3 122.8,418.3 123.7,418.3 124.6,418.3 125.6,418.3 126.5,418.3 127.4,418.3 128.4,418.3 129.3,418.3 130.2,418.3 131.2,418.4 132.1,418.4 133.0,418.4 134.0,418.4 134.9,418.4 135.8,418.4 136.8,418.4 137.7,418.4 138.6,418.5 139.6,418.5 140.5,418.5 141.4,418.5 142.3,418.5 143.3,418.5 144.2,418.6 145.1,418.6 146.1,418.6 147.0,418.6 147.9,418.7 148.9,418.7 149.8,418.7 150.7,418.7 151.7,418.7 152.6,418.8 153.5,418.8 154.5,418.8 155.4,418.8 156.3,418.9 157.3,418.9 158.2,418.9 159.1,418.9 160.1,419.0 161.0,419.0 161.9,419.0 162.9,419.1 163.8,419.1 164.7,419.1 165.7,419.2 166.6,419.2 167.5,419.2 168.5,419.3 169.4,419.3 170.3,419.3 171.3,419.4 172.2,419.4 173.1,419.5 174.1,419.5 175.0,419.6 175.9,419.6 176.8,419.7 177.8,419.8 178.7,419.8 179.6,419.9 180.6,420.0 181.5,420.0 182.4,420.1 183.4,420.2 184.3,420.3 185.2,420.3 186.2,420.4 187.1,420.5 188.0,420.6 189.0,420.7 189.9,420.8 190.8,420.9 191.8,421.0 192.7,421.1 193.6,421.1 194.6,421.2 195.5,421.3 196.4,421.4 197.4,421.5 198.3,421.6 199.2,421.7 200.2,421.8 201.1,421.9 202.0,422.0 203.0,422.1 203.9,422.2 204.8,422.3 205.8,422.4 206.7,422.5 207.6,422.6 208.6,422.7 209.5,422.8 210.4,422.9 211.3,422.9 212.3,423.0 213.2,423.1 214.1,423.2 215.1,423.2 216.0,423.3 216.9,423.4 217.9,423.4 218.8,423.5 219.7,423.5 220.7,423.6 221.6,423.6 222.5,423.7 223.5,423.7 224.4,423.8 225.3,423.8 226.3,423.8 227.2,423.9 228.1,423.9 229.1,423.9 230.0,424.0 230.9,424.0 231.9,424.0 232.8,424.0 233.7,424.0 234.7,424.1 235.6,424.1 236.5,424.1 237.5,424.1 238.4,424.1 239.3,424.1 240.3,424.2 241.2,424.2 242.1,424.2 243.1,424.2 244.0,424.2 244.9,424.2 245.8,424.2 246.8,424.2 247.7,424.2 248.6,424.2 249.6,424.2 250.5,424.2 251.4,424.3 252.4,424.3 253.3,424.3 254.2,424.3 255.2,424.3 256.1,424.3 257.0,424.3 258.0,424.3 258.9,424.3 259.8,424.3 260.8,424.3 261.7,424.3" fill="none" stroke="#7d4129" stroke-width="1.6"/>
<path d="M20.2,417.6 21.1,417.6 22.1,417.6 23.0,417.6 23.9,417.6 24.9,417.6 25.8,417.6 26.7,417.6 27.7,417.6 28.6,417.6 29.5,417.6 30.5,417.6 31.4,417.6 32.3,417.6 33.3,417.6 34.2,417.6 35.1,417.6 36.1,417.6 37.0,417.5 37.9,417.5 38.8,417.5 39.8,417.5 40.7,417.5 41.6,417.5 42.6,417.5 43.5,417.5 44.4,417.5 45.4,417.5 46.3,417.5 47.2,417.5 48.2,417.5 49.1,417.5 50.0,417.5 51.0,417.5 51.9,417.5 52.8,417.5 53.8,417.5 54.7,417.5 55.6,417.5 56.6,417.5 57.5,417.4 58.4,417.4 59.4,417.4 60.3,417.4 61.2,417.4 62.2,417.4 63.1,417.4 64.0,417.4 65.0,417.4 65.9,417.4 66.8,417.4 67.8,417.4 68.7,417.4 69.6,417.4 70.6,417.4 71.5,417.4 72.4,417.4 73.3,417.4 74.3,417.3 75.2,417.3 76.1,417.3 77.1,417.3 78.0,417.3 78.9,417.3 79.9,417.3 80.8,417.3 81.7,417.3 82.7,417.3 83.6,417.3 84.5,417.3 85.5,417.2 86.4,417.2 87.3,417.2 88.3,417.2 89.2,417.2 90.1,417.2 91.1,417.2 92.0,417.2 92.9,417.1 93.9,417.1 94.8,417.1 95.7,417.1 96.7,417.1 97.6,417.1 98.5,417.0 99.5,417.0 100.4,417.0 101.3,417.0 102.3,417.0 103.2,416.9 104.1,416.9 105.1,416.9 106.0,416.9 106.9,416.8 107.8,416.8 108.8,416.8 109.7,416.8 110.6,416.7 111.6,416.7 112.5,416.7 113.4,416.6 114.4,416.6 115.3,416.6 116.2,416.5 117.2,416.5 118.1,416.5 119.0,416.4 120.0,416.4 120.9,416.3 121.8,416.3 122.8,416.2 123.7,416.2 124.6,416.1 125.6,416.1 126.5,416.0 127.4,415.9 128.4,415.9 129.3,415.8 130.2,415.7 131.2,415.6 132.1,415.5 133.0,415.4 134.0,415.3 134.9,415.1 135.8,415.0 136.8,414.9 137.7,414.7 138.6,414.5 139.6,414.3 140.5,414.1 141.4,413.9 142.3,413.6 143.3,413.3 144.2,413.0 145.1,412.7 146.1,412.3 147.0,411.9 147.9,411.5 148.9,411.0 149.8,410.5 150.7,409.9 151.7,409.4 152.6,408.7 153.5,408.0 154.5,407.3 155.4,406.5 156.3,405.6 157.3,404.7 158.2,403.8 159.1,402.7 160.1,401.6 161.0,400.5 161.9,399.2 162.9,398.0 163.8,396.6 164.7,395.2 165.7,393.7 166.6,392.1 167.5,390.5 168.5,388.8 169.4,387.1 170.3,385.3 171.3,383.4 172.2,381.5 173.1,379.6 174.1,377.6 175.0,375.6 175.9,373.5 176.8,371.4 177.8,369.4 178.7,367.3 179.6,365.2 180.6,363.1 181.5,361.0 182.4,359.0 183.4,357.0 184.3,355.0 185.2,353.1 186.2,351.3 187.1,349.6 188.0,348.0 189.0,346.5 189.9,345.1 190.8,343.8 191.8,342.7 192.7,341.8 193.6,341.0 194.6,340.4 195.5,339.9 196.4,339.7 197.4,339.6 198.3,339.7 199.2,340.1 200.2,340.7 201.1,341.4 202.0,342.4 203.0,343.6 203.9,345.0 204.8,346.5 205.8,348.2 206.7,350.0 207.6,351.9 208.6,354.0 209.5,356.1 210.4,358.4 211.3,360.6 212.3,363.0 213.2,365.3 214.1,367.7 215.1,370.1 216.0,372.5 216.9,374.9 217.9,377.3 218.8,379.6 219.7,381.9 220.7,384.2 221.6,386.4 222.5,388.5 223.5,390.6 224.4,392.5 225.3,394.5 226.3,396.3 227.2,398.1 228.1,399.8 229.1,401.4 230.0,402.9 230.9,404.4 231.9,405.7 232.8,407.0 233.7,408.2 234.7,409.4 235.6,410.4 236.5,411.4 237.5,412.3 238.4,413.2 239.3,414.0 240.3,414.7 241.2,415.4 242.1,416.0 243.1,416.6 244.0,417.1 244.9,417.6 245.8,418.1 246.8,418.5 247.7,418.9 248.6,419.2 249.6,419.5 250.5,419.8 251.4,420.1 252.4,420.3 253.3,420.5 254.2,420.7 255.2,420.9 256.1,421.1 257.0,421.2 258.0,421.4 258.9,421.5 259.8,421.6 260.8,421.7 261.7,421.8" fill="none" stroke="#7d4129" stroke-width="1.6"/>
<path d="M20.2,418.0 21.1,418.0 22.1,418.0 23.0,418.0 23.9,418.0 24.9,418.0 25.8,418.0 26.7,418.0 27.7,418.0 28.6,418.0 29.5,418.0 30.5,418.0 31.4,418.0 32.3,418.0 33.3,418.0 34.2,418.0 35.1,418.0 36.1,418.0 37.0,418.0 37.9,418.0 38.8,418.0 39.8,418.0 40.7,418.0 41.6,418.0 42.6,418.0 43.5,418.0 44.4,418.0 45.4,418.0 46.3,418.0 47.2,418.0 48.2,418.0 49.1,418.0 50.0,418.0 51.0,418.0 51.9,418.0 52.8,418.0 53.8,418.0 54.7,418.0 55.6,418.0 56.6,418.0 57.5,418.1 58.4,418.1 59.4,418.1 60.3,418.1 61.2,418.1 62.2,418.1 63.1,418.1 64.0,418.1 65.0,418.1 65.9,418.1 66.8,418.1 67.8,418.1 68.7,418.1 69.6,418.1 70.6,418.1 71.5,418.1 72.4,418.1 73.3,418.1 74.3,418.1 75.2,418.1 76.1,418.1 77.1,418.1 78.0,418.1 78.9,418.1 79.9,418.1 80.8,418.2 81.7,418.2 82.7,418.2 83.6,418.2 84.5,418.2 85.5,418.2 86.4,418.2 87.3,418.2 88.3,418.2 89.2,418.2 90.1,418.2 91.1,418.2 92.0,418.2 92.9,418.2 93.9,418.2 94.8,418.2 95.7,418.2 96.7,418.2 97.6,418.2 98.5,418.2 99.5,418.2 100.4,418.2 101.3,418.2 102.3,418.2 103.2,418.2 104.1,418.2 105.1,418.2 106.0,418.1 106.9,418.1 107.8,418.1 108.8,418.1 109.7,418.0 110.6,418.0 111.6,417.9 112.5,417.9 113.4,417.8 114.4,417.7 115.3,417.6 116.2,417.5 117.2,417.3 118.1,417.2 119.0,417.0 120.0,416.8 120.9,416.6 121.8,416.3 122.8,416.0 123.7,415.7 124.6,415.4 125.6,415.1 126.5,414.7 127.4,414.3 128.4,413.9 129.3,413.5 130.2,413.0 131.2,412.6 132.1,412.1 133.0,411.6 134.0,411.2 134.9,410.7 135.8,410.3 136.8,409.9 137.7,409.5 138.6,409.1 139.6,408.7 140.5,408.4 141.4,408.2 142.3,408.0 143.3,407.8 144.2,407.7 145.1,407.7 146.1,407.7 147.0,407.8 147.9,407.9 148.9,408.1 149.8,408.3 150.7,408.6 151.7,409.0 152.6,409.3 153.5,409.7 154.5,410.2 155.4,410.6 156.3,411.1 157.3,411.6 158.2,412.1 159.1,412.6 160.1,413.1 161.0,413.6 161.9,414.1 162.9,414.6 163.8,415.0 164.7,415.5 165.7,415.9 166.6,416.3 167.5,416.6 168.5,417.0 169.4,417.3 170.3,417.6 171.3,417.9 172.2,418.1 173.1,418.4 174.1,418.6 175.0,418.8 175.9,419.0 176.8,419.1 177.8,419.3 178.7,419.4 179.6,419.6 180.6,419.7 181.5,419.8 182.4,419.9 183.4,420.0 184.3,420.1 185.2,420.2 186.2,420.3 187.1,420.4 188.0,420.5 189.0,420.6 189.9,420.7 190.8,420.8 191.8,420.9 192.7,421.0 193.6,421.1 194.6,421.2 195.5,421.3 196.4,421.4 197.4,421.5 198.3,421.6 199.2,421.7 200.2,421.8 201.1,421.9 202.0,422.0 203.0,422.1 203.9,422.2 204.8,422.3 205.8,422.4 206.7,422.5 207.6,422.6 208.6,422.7 209.5,422.8 210.4,422.9 211.3,422.9 212.3,423.0 213.2,423.1 214.1,423.2 215.1,423.2 216.0,423.3 216.9,423.4 217.9,423.4 218.8,423.5 219.7,423.5 220.7,423.6 221.6,423.6 222.5,423.7 223.5,423.7 224.4,423.8 225.3,423.8 226.3,423.8 227.2,423.9 228.1,423.9 229.1,423.9 230.0,424.0 230.9,424.0 231.9,424.0 232.8,424.0 233.7,424.0 234.7,424.1 235.6,424.1 236.5,424.1 237.5,424.1 238.4,424.1 239.3,424.1 240.3,424.2 241.2,424.2 242.1,424.2 243.1,424.2 244.0,424.2 244.9,424.2 245.8,424.2 246.8,424.2 247.7,424.2 248.6,424.2 249.6,424.2 250.5,424.2 251.4,424.3 252.4,424.3 253.3,424.3 254.2,424.3 255.2,424.3 256.1,424.3 257.0,424.3 258.0,424.3 258.9,424.3 259.8,424.3 260.8,424.3 261.7,424.3" fill="none" stroke="#7d4129" stroke-width="1.6"/>
<path d="M20.2,418.0 21.1,418.0 22.1,418.0 23.0,418.0 23.9,418.0 24.9,417.9 25.8,417.9 26.7,417.9 27.7,417.9 28.6,417.9 29.5,417.9 30.5,417.9 31.4,417.8 32.3,417.8 33.3,417.8 34.2,417.8 35.1,417.7 36.1,417.7 37.0,417.7 37.9,417.6 38.8,417.6 39.8,417.6 40.7,417.5 41.6,417.5 42.6,417.4 43.5,417.3 44.4,417.3 45.4,417.2 46.3,417.1 47.2,417.1 48.2,417.0 49.1,416.9 50.0,416.8 51.0,416.7 51.9,416.6 52.8,416.6 53.8,416.5 54.7,416.4 55.6,416.3 56.6,416.2 57.5,416.1 58.4,416.0 59.4,415.9 60.3,415.9 61.2,415.8 62.2,415.7 63.1,415.6 64.0,415.6 65.0,415.5 65.9,415.5 66.8,415.4 67.8,415.4 68.7,415.4 69.6,415.3 70.6,415.3 71.5,415.3 72.4,415.3 73.3,415.3 74.3,415.3 75.2,415.4 76.1,415.4 77.1,415.5 78.0,415.5 78.9,415.6 79.9,415.6 80.8,415.7 81.7,415.8 82.7,415.9 83.6,415.9 84.5,416.0 85.5,416.1 86.4,416.2 87.3,416.3 88.3,416.4 89.2,416.5 90.1,416.6 91.1,416.7 92.0,416.8 92.9,416.9 93.9,417.0 94.8,417.1 95.7,417.2 96.7,417.2 97.6,417.3 98.5,417.4 99.5,417.5 100.4,417.5 101.3,417.6 102.3,417.7 103.2,417.7 104.1,417.8 105.1,417.8 106.0,417.9 106.9,417.9 107.8,417.9 108.8,418.0 109.7,418.0 110.6,418.0 111.6,418.1 112.5,418.1 113.4,418.1 114.4,418.1 115.3,418.2 116.2,418.2 117.2,418.2 118.1,418.2 119.0,418.2 120.0,418.2 120.9,418.2 121.8,418.2 122.8,418.3 123.7,418.3 124.6,418.3 125.6,418.3 126.5,418.3 127.4,418.3 128.4,418.3 129.3,418.3 130.2,418.3 131.2,418.4 132.1,418.4 133.0,418.4 134.0,418.4 134.9,418.4 135.8,418.4 136.8,418.4 137.7,418.4 138.6,418.5 139.6,418.5 140.5,418.5 141.4,418.5 142.3,418.5 143.3,418.5 144.2,418.6 145.1,418.6 146.1,418.6 147.0,418.6 147.9,418.7 148.9,418.7 149.8,418.7 150.7,418.7 151.7,418.7 152.6,418.8 153.5,418.8 154.5,418.8 155.4,418.8 156.3,418.9 157.3,418.9 158.2,418.9 159.1,418.9 160.1,419.0 161.0,419.0 161.9,419.0 162.9,419.1 163.8,419.1 164.7,419.1 165.7,419.2 166.6,419.2 167.5,419.2 168.5,419.3 169.4,419.3 170.3,419.3 171.3,419.4 172.2,419.4 173.1,419.5 174.1,419.5 175.0,419.6 175.9,419.6 176.8,419.7 177.8,419.8 178.7,419.8 179.6,419.9 180.6,420.0 181.5,420.0 182.4,420.1 183.4,420.2 184.3,420.3 185.2,420.3 186.2,420.4 187.1,420.5 188.0,420.6 189.0,420.7 189.9,420.8 190.8,420.9 191.8,421.0 192.7,421.1 193.6,421.1 194.6,421.2 195.5,421.3 196.4,421.4 197.4,421.5 198.3,421.6 199.2,421.7 200.2,421.8 201.1,421.9 202.0,422.0 203.0,422.1 203.9,422.2 204.8,422.3 205.8,422.4 206.7,422.5 207.6,422.6 208.6,422.7 209.5,422.8 210.4,422.9 211.3,422.9 212.3,423.0 213.2,423.1 214.1,423.2 215.1,423.2 216.0,423.3 216.9,423.4 217.9,423.4 218.8,423.5 219.7,423.5 220.7,423.6 221.6,423.6 222.5,423.7 223.5,423.7 224.4,423.8 225.3,423.8 226.3,423.8 227.2,423.9 228.1,423.9 229.1,423.9 230.0,424.0 230.9,424.0 231.9,424.0 232.8,424.0 233.7,424.0 234.7,424.1 235.6,424.1 236.5,424.1 237.5,424.1 238.4,424.1 239.3,424.1 240.3,424.2 241.2,424.2 242.1,424.2 243.1,424.2 244.0,424.2 244.9,424.2 245.8,424.2 246.8,424.2 247.7,424.2 248.6,424.2 249.6,424.2 250.5,424.2 251.4,424.3 252.4,424.3 253.3,424.3 254.2,424.3 255.2,424.3 256.1,424.3 257.0,424.3 258.0,424.3 258.9,424.3 259.8,424.3 260.8,424.3 261.7,424.3" fill="none" stroke="#7d4129" stroke-width="1.6"/>
<path d="M20.2,417.6 21.1,417.6 22.1,417.6 23.0,417.6 23.9,417.6 24.9,417.5 25.8,417.5 26.7,417.5 27.7,417.5 28.6,417.5 29.5,417.5 30.5,417.4 31.4,417.4 32.3,417.4 33.3,417.4 34.2,417.3 35.1,417.3 36.1,417.3 37.0,417.2 37.9,417.2 38.8,417.1 39.8,417.1 40.7,417.0 41.6,417.0 42.6,416.9 43.5,416.8 44.4,416.8 45.4,416.7 46.3,416.6 47.2,416.5 48.2,416.4 49.1,416.4 50.0,416.3 51.0,416.2 51.9,416.1 52.8,416.0 53.8,415.9 54.7,415.8 55.6,415.7 56.6,415.6 57.5,415.5 58.4,415.4 59.4,415.3 60.3,415.2 61.2,415.1 62.2,415.1 63.1,415.0 64.0,414.9 65.0,414.8 65.9,414.8 66.8,414.7 67.8,414.7 68.7,414.6 69.6,414.6 70.6,414.6 71.5,414.6 72.4,414.6 73.3,414.6 74.3,414.6 75.2,414.6 76.1,414.6 77.1,414.6 78.0,414.7 78.9,414.7 79.9,414.8 80.8,414.8 81.7,414.9 82.7,415.0 83.6,415.0 84.5,415.1 85.5,415.2 86.4,415.3 87.3,415.4 88.3,415.4 89.2,415.5 90.1,415.6 91.1,415.7 92.0,415.8 92.9,415.8 93.9,415.9 94.8,416.0 95.7,416.0 96.7,416.1 97.6,416.1 98.5,416.2 99.5,416.2 100.4,416.3 101.3,416.3 102.3,416.3 103.2,416.4 104.1,416.4 105.1,416.4 106.0,416.4 106.9,416.4 107.8,416.4 108.8,416.3 109.7,416.3 110.6,416.3 111.6,416.2 112.5,416.1 113.4,416.0 114.4,415.9 115.3,415.8 116.2,415.6 117.2,415.5 118.1,415.3 119.0,415.1 120.0,414.8 120.9,414.6 121.8,414.3 122.8,414.0 123.7,413.6 124.6,413.2 125.6,412.8 126.5,412.4 127.4,411.9 128.4,411.4 129.3,410.9 130.2,410.4 131.2,409.8 132.1,409.2 133.0,408.7 134.0,408.1 134.9,407.5 135.8,406.9 136.8,406.3 137.7,405.7 138.6,405.1 139.6,404.6 140.5,404.0 141.4,403.5 142.3,403.1 143.3,402.6 144.2,402.2 145.1,401.8 146.1,401.4 147.0,401.1 147.9,400.7 148.9,400.4 149.8,400.1 150.7,399.9 151.7,399.6 152.6,399.3 153.5,399.0 154.5,398.6 155.4,398.3 156.3,397.9 157.3,397.4 158.2,397.0 159.1,396.4 160.1,395.8 161.0,395.1 161.9,394.3 162.9,393.5 163.8,392.5 164.7,391.5 165.7,390.4 166.6,389.2 167.5,387.9 168.5,386.5 169.4,385.1 170.3,383.5 171.3,381.9 172.2,380.2 173.1,378.5 174.1,376.6 175.0,374.8 175.9,372.8 176.8,370.9 177.8,368.9 178.7,366.8 179.6,364.8 180.6,362.8 181.5,360.8 182.4,358.8 183.4,356.8 184.3,354.9 185.2,353.0 186.2,351.3 187.1,349.5 188.0,347.9 189.0,346.4 189.9,345.1 190.8,343.8 191.8,342.7 192.7,341.8 193.6,341.0 194.6,340.4 195.5,339.9 196.4,339.7 197.4,339.6 198.3,339.7 199.2,340.1 200.2,340.7 201.1,341.4 202.0,342.4 203.0,343.6 203.9,345.0 204.8,346.5 205.8,348.2 206.7,350.0 207.6,351.9 208.6,354.0 209.5,356.1 210.4,358.4 211.3,360.6 212.3,363.0 213.2,365.3 214.1,367.7 215.1,370.1 216.0,372.5 216.9,374.9 217.9,377.3 218.8,379.6 219.7,381.9 220.7,384.2 221.6,386.4 222.5,388.5 223.5,390.6 224.4,392.5 225.3,394.5 226.3,396.3 227.2,398.1 228.1,399.8 229.1,401.4 230.0,402.9 230.9,404.4 231.9,405.7 232.8,407.0 233.7,408.2 234.7,409.4 235.6,410.4 236.5,411.4 237.5,412.3 238.4,413.2 239.3,414.0 240.3,414.7 241.2,415.4 242.1,416.0 243.1,416.6 244.0,417.1 244.9,417.6 245.8,418.1 246.8,418.5 247.7,418.9 248.6,419.2 249.6,419.5 250.5,419.8 251.4,420.1 252.4,420.3 253.3,420.5 254.2,420.7 255.2,420.9 256.1,421.1 257.0,421.2 258.0,421.4 258.9,421.5 259.8,421.6 260.8,421.7 261.7,421.8" fill="none" stroke="#7d4129" stroke-width="2.0"/>
<path d="M145.6,242.5 V438 M194.8,242.5 V438" stroke="#333" stroke-width="1.4" stroke-dasharray="3.3,3"/>
<rect x="20.2" y="241.9" width="241.50" height="196.60" fill="none" stroke="#111" stroke-width="1.9"/>
<path d="M40.33,438.5 v-4 M80.58,438.5 v-4 M120.83,438.5 v-4 M161.07,438.5 v-4 M201.32,438.5 v-4 M241.57,438.5 v-4 M60.45,438.5 v-2.3 M100.70,438.5 v-2.3 M140.95,438.5 v-2.3 M181.20,438.5 v-2.3 M221.45,438.5 v-2.3 " stroke="#111" stroke-width="1.5" fill="none"/>
<text transform="translate(40.33,449.7) scale(1.0,0.98)" font-size="9" text-anchor="middle" fill="#111">406</text>
<text transform="translate(80.58,449.7) scale(1.0,0.98)" font-size="9" text-anchor="middle" fill="#111">404</text>
<text transform="translate(120.83,449.7) scale(1.0,0.98)" font-size="9" text-anchor="middle" fill="#111">402</text>
<text transform="translate(161.07,449.7) scale(1.0,0.98)" font-size="9" text-anchor="middle" fill="#111">400</text>
<text transform="translate(201.32,449.7) scale(1.0,0.98)" font-size="9" text-anchor="middle" fill="#111">398</text>
<text transform="translate(241.57,449.7) scale(1.0,0.98)" font-size="9" text-anchor="middle" fill="#111">396</text>
<text transform="translate(30.89,263.60) scale(1.045,1)" font-size="19.32" fill="#111" stroke="#111" stroke-width="0">(c)</text>
<text transform="translate(24.35,300.10) scale(1.017,1)" font-size="11.00" fill="#111" stroke="#111" stroke-width="0">g-C<tspan font-size="5.50" dx="0.44" dy="4.62">3</tspan><tspan dx="0.44" dy="-4.62">N</tspan><tspan font-size="5.50" dx="0.44" dy="4.62">4</tspan></text>
<text transform="translate(120.49,291.70) scale(0.973,1)" font-size="10.43" fill="#111" stroke="#111" stroke-width="0">N-C<tspan font-size="5.21" dx="0.42" dy="4.38">3</tspan></text>
<text transform="translate(158.30,256.40) scale(0.979,1)" font-size="10.29" fill="#111" stroke="#111" stroke-width="0">C-N-C</text>
<text transform="translate(235.31,255.70) scale(1.026,1)" font-size="11.01" fill="#111" stroke="#111" stroke-width="0">N 1s</text>
<text transform="translate(29.92,400.10) scale(1.025,1)" font-size="10.86" fill="#ac3a30" stroke="#ac3a30" stroke-width="0">PQDs-g-C<tspan font-size="5.43" dx="0.43" dy="4.56">3</tspan><tspan dx="0.43" dy="-4.56">N</tspan><tspan font-size="5.43" dx="0.43" dy="4.56">4</tspan></text>
<text transform="translate(87.82,463.70) scale(1.098,1)" font-size="10.14" fill="#111" stroke="#111" stroke-width="0">Binding Energy (eV)</text>
<text transform="translate(9.90,373.98) rotate(-90) scale(0.966,1)" font-size="11.51" fill="#111" stroke="#111" stroke-width="0">Intensity (a.u.)</text>
<path d="M298.8,394.9 299.6,394.8 300.4,394.6 301.2,394.5 302.0,394.4 302.9,394.2 303.7,394.1 304.5,393.9 305.3,393.8 306.1,393.6 306.9,393.4 307.7,393.3 308.5,393.1 309.3,392.9 310.1,392.7 311.0,392.5 311.8,392.3 312.6,392.1 313.4,391.9 314.2,391.6 315.0,391.4 315.8,391.1 316.6,390.9 317.4,390.6 318.3,390.4 319.1,390.1 319.9,389.8 320.7,389.5 321.5,389.2 322.3,388.8 323.1,388.5 323.9,388.1 324.7,387.8 325.6,387.4 326.4,387.0 327.2,386.6 328.0,386.1 328.8,385.7 329.6,385.2 330.4,384.8 331.2,384.3 332.0,383.7 332.8,383.2 333.7,382.7 334.5,382.1 335.3,381.5 336.1,380.8 336.9,380.2 337.7,379.5 338.5,378.8 339.3,378.1 340.1,377.3 341.0,376.5 341.8,375.7 342.6,374.9 343.4,374.0 344.2,373.1 345.0,372.1 345.8,371.2 346.6,370.1 347.4,369.1 348.3,368.0 349.1,366.9 349.9,365.7 350.7,364.5 351.5,363.2 352.3,361.9 353.1,360.6 353.9,359.2 354.7,357.7 355.5,356.3 356.4,354.7 357.2,353.2 358.0,351.6 358.8,349.9 359.6,348.2 360.4,346.4 361.2,344.7 362.0,342.8 362.8,340.9 363.7,339.0 364.5,337.1 365.3,335.1 366.1,333.1 366.9,331.0 367.7,328.9 368.5,326.9 369.3,324.8 370.1,322.7 371.0,320.6 371.8,318.5 372.6,316.4 373.4,314.4 374.2,312.4 375.0,310.4 375.8,308.5 376.6,306.7 377.4,305.0 378.2,303.3 379.1,301.8 379.9,300.4 380.7,299.1 381.5,298.0 382.3,297.0 383.1,296.2 383.9,295.5 384.7,295.0 385.5,294.7 386.4,294.6 387.2,294.7 388.0,295.0 388.8,295.5 389.6,296.2 390.4,297.1 391.2,298.1 392.0,299.4 392.8,300.8 393.7,302.4 394.5,304.1 395.3,305.9 396.1,307.8 396.9,309.9 397.7,312.0 398.5,314.2 399.3,316.4 400.1,318.7 400.9,320.9 401.8,323.3 402.6,325.6 403.4,327.9 404.2,330.2 405.0,332.4 405.8,334.7 406.6,336.9 407.4,339.1 408.2,341.2 409.1,343.3 409.9,345.4 410.7,347.3 411.5,349.3 412.3,351.2 413.1,353.0 413.9,354.7 414.7,356.4 415.5,358.1 416.4,359.7 417.2,361.2 418.0,362.6 418.8,364.0 419.6,365.4 420.4,366.6 421.2,367.8 422.0,369.0 422.8,370.0 423.6,371.0 424.5,372.0 425.3,372.8 426.1,373.6 426.9,374.3 427.7,375.0 428.5,375.6 429.3,376.1 430.1,376.5 430.9,376.8 431.8,377.0 432.6,377.2 433.4,377.3 434.2,377.2 435.0,377.1 435.8,376.9 436.6,376.6 437.4,376.2 438.2,375.6 439.1,375.0 439.9,374.2 440.7,373.3 441.5,372.4 442.3,371.2 443.1,370.0 443.9,368.7 444.7,367.2 445.5,365.6 446.3,363.8 447.2,362.0 448.0,360.0 448.8,357.9 449.6,355.7 450.4,353.3 451.2,350.9 452.0,348.3 452.8,345.7 453.6,342.9 454.5,340.1 455.3,337.1 456.1,334.2 456.9,331.1 457.7,328.0 458.5,324.8 459.3,321.7 460.1,318.5 460.9,315.3 461.8,312.1 462.6,308.9 463.4,305.8 464.2,302.7 465.0,299.7 465.8,296.8 466.6,293.9 467.4,291.2 468.2,288.6 469.0,286.2 469.9,283.9 470.7,281.7 471.5,279.8 472.3,278.0 473.1,276.4 473.9,275.1 474.7,274.0 475.5,273.0 476.3,272.4 477.2,271.9 478.0,271.7 478.8,271.8 479.6,272.1 480.4,272.6 481.2,273.4 482.0,274.5 482.8,275.8 483.6,277.4 484.5,279.1 485.3,281.1 486.1,283.4 486.9,285.8 487.7,288.4 488.5,291.2 489.3,294.1 490.1,297.2 490.9,300.5 491.7,303.8 492.6,307.2 493.4,310.8 494.2,314.3 495.0,318.0 495.8,321.7 496.6,325.4 497.4,329.1 498.2,332.8 499.0,336.5 499.9,340.1 500.7,343.7 501.5,347.3 502.3,350.8 503.1,354.2 503.9,357.6 504.7,360.8 505.5,364.0 506.3,367.0 507.2,370.0 508.0,372.8 508.8,375.6 509.6,378.2 510.4,380.7 511.2,383.1 512.0,385.4 512.8,387.6 513.6,389.6 514.4,391.5 515.3,393.4 516.1,395.1 516.9,396.7 517.7,398.2 518.5,399.7 519.3,401.0 520.1,402.2 520.9,403.4 521.7,404.5 522.6,405.5 523.4,406.4 524.2,407.2 525.0,408.0 525.8,408.7 526.6,409.4 527.4,410.0 528.2,410.6 529.0,411.1 529.9,411.6 530.7,412.0 531.5,412.4 532.3,412.8 533.1,413.1 533.9,413.4 534.7,413.7 535.5,414.0 536.3,414.2 537.1,414.4 538.0,414.6 538.8,414.8 539.6,415.0 540.4,415.1 541.2,415.3" fill="none" stroke="#963a2a" stroke-width="2.0"/>
<path d="M298.8,404.4 299.6,404.5 300.4,404.5 301.2,404.6 302.0,404.6 302.9,404.6 303.7,404.7 304.5,404.7 305.3,404.8 306.1,404.8 306.9,404.8 307.7,404.9 308.5,404.9 309.3,405.0 310.1,405.0 311.0,405.0 311.8,405.1 312.6,405.1 313.4,405.2 314.2,405.2 315.0,405.2 315.8,405.3 316.6,405.3 317.4,405.4 318.3,405.4 319.1,405.4 319.9,405.5 320.7,405.5 321.5,405.6 322.3,405.6 323.1,405.6 323.9,405.7 324.7,405.7 325.6,405.8 326.4,405.8 327.2,405.8 328.0,405.9 328.8,405.9 329.6,406.0 330.4,406.0 331.2,406.1 332.0,406.1 332.8,406.1 333.7,406.2 334.5,406.2 335.3,406.3 336.1,406.3 336.9,406.3 337.7,406.4 338.5,406.4 339.3,406.5 340.1,406.5 341.0,406.5 341.8,406.6 342.6,406.6 343.4,406.7 344.2,406.7 345.0,406.8 345.8,406.8 346.6,406.8 347.4,406.9 348.3,406.9 349.1,407.0 349.9,407.0 350.7,407.0 351.5,407.1 352.3,407.1 353.1,407.2 353.9,407.2 354.7,407.2 355.5,407.3 356.4,407.3 357.2,407.4 358.0,407.4 358.8,407.4 359.6,407.5 360.4,407.5 361.2,407.6 362.0,407.6 362.8,407.7 363.7,407.7 364.5,407.7 365.3,407.8 366.1,407.8 366.9,407.9 367.7,407.9 368.5,408.0 369.3,408.0 370.1,408.0 371.0,408.1 371.8,408.1 372.6,408.2 373.4,408.2 374.2,408.3 375.0,408.3 375.8,408.4 376.6,408.4 377.4,408.5 378.2,408.5 379.1,408.6 379.9,408.6 380.7,408.7 381.5,408.7 382.3,408.8 383.1,408.8 383.9,408.9 384.7,408.9 385.5,409.0 386.4,409.0 387.2,409.1 388.0,409.2 388.8,409.2 389.6,409.3 390.4,409.3 391.2,409.4 392.0,409.5 392.8,409.5 393.7,409.6 394.5,409.6 395.3,409.7 396.1,409.8 396.9,409.8 397.7,409.9 398.5,409.9 399.3,410.0 400.1,410.1 400.9,410.1 401.8,410.2 402.6,410.3 403.4,410.3 404.2,410.4 405.0,410.4 405.8,410.5 406.6,410.6 407.4,410.6 408.2,410.7 409.1,410.8 409.9,410.8 410.7,410.9 411.5,411.0 412.3,411.0 413.1,411.1 413.9,411.1 414.7,411.2 415.5,411.3 416.4,411.3 417.2,411.4 418.0,411.4 418.8,411.5 419.6,411.6 420.4,411.6 421.2,411.7 422.0,411.8 422.8,411.8 423.6,411.9 424.5,411.9 425.3,412.0 426.1,412.1 426.9,412.1 427.7,412.2 428.5,412.2 429.3,412.3 430.1,412.4 430.9,412.4 431.8,412.5 432.6,412.5 433.4,412.6 434.2,412.7 435.0,412.7 435.8,412.8 436.6,412.8 437.4,412.9 438.2,413.0 439.1,413.0 439.9,413.1 440.7,413.1 441.5,413.2 442.3,413.3 443.1,413.3 443.9,413.4 444.7,413.4 445.5,413.5 446.3,413.6 447.2,413.6 448.0,413.7 448.8,413.7 449.6,413.8 450.4,413.9 451.2,413.9 452.0,414.0 452.8,414.1 453.6,414.1 454.5,414.2 455.3,414.2 456.1,414.3 456.9,414.4 457.7,414.4 458.5,414.5 459.3,414.5 460.1,414.6 460.9,414.7 461.8,414.7 462.6,414.8 463.4,414.8 464.2,414.9 465.0,415.0 465.8,415.0 466.6,415.1 467.4,415.1 468.2,415.2 469.0,415.3 469.9,415.3 470.7,415.4 471.5,415.5 472.3,415.5 473.1,415.6 473.9,415.7 474.7,415.7 475.5,415.8 476.3,415.9 477.2,415.9 478.0,416.0 478.8,416.1 479.6,416.1 480.4,416.2 481.2,416.3 482.0,416.3 482.8,416.4 483.6,416.5 484.5,416.5 485.3,416.6 486.1,416.7 486.9,416.7 487.7,416.8 488.5,416.9 489.3,416.9 490.1,417.0 490.9,417.1 491.7,417.1 492.6,417.2 493.4,417.3 494.2,417.3 495.0,417.4 495.8,417.4 496.6,417.5 497.4,417.6 498.2,417.6 499.0,417.7 499.9,417.7 500.7,417.8 501.5,417.8 502.3,417.9 503.1,417.9 503.9,418.0 504.7,418.1 505.5,418.1 506.3,418.2 507.2,418.2 508.0,418.2 508.8,418.3 509.6,418.3 510.4,418.4 511.2,418.4 512.0,418.5 512.8,418.5 513.6,418.5 514.4,418.6 515.3,418.6 516.1,418.7 516.9,418.7 517.7,418.7 518.5,418.8 519.3,418.8 520.1,418.8 520.9,418.9 521.7,418.9 522.6,418.9 523.4,419.0 524.2,419.0 525.0,419.0 525.8,419.1 526.6,419.1 527.4,419.1 528.2,419.2 529.0,419.2 529.9,419.2 530.7,419.3 531.5,419.3 532.3,419.3 533.1,419.3 533.9,419.4 534.7,419.4 535.5,419.4 536.3,419.4 537.1,419.5 538.0,419.5 538.8,419.5 539.6,419.5 540.4,419.6 541.2,419.6" fill="none" stroke="#7d4129" stroke-width="1.9"/>
<path d="M298.8,394.9 299.6,394.8 300.4,394.6 301.2,394.5 302.0,394.4 302.9,394.2 303.7,394.1 304.5,393.9 305.3,393.8 306.1,393.6 306.9,393.4 307.7,393.3 308.5,393.1 309.3,392.9 310.1,392.7 311.0,392.5 311.8,392.3 312.6,392.1 313.4,391.9 314.2,391.6 315.0,391.4 315.8,391.1 316.6,390.9 317.4,390.6 318.3,390.4 319.1,390.1 319.9,389.8 320.7,389.5 321.5,389.2 322.3,388.8 323.1,388.5 323.9,388.1 324.7,387.8 325.6,387.4 326.4,387.0 327.2,386.6 328.0,386.1 328.8,385.7 329.6,385.2 330.4,384.8 331.2,384.3 332.0,383.7 332.8,383.2 333.7,382.7 334.5,382.1 335.3,381.5 336.1,380.8 336.9,380.2 337.7,379.5 338.5,378.8 339.3,378.1 340.1,377.3 341.0,376.5 341.8,375.7 342.6,374.9 343.4,374.0 344.2,373.1 345.0,372.1 345.8,371.2 346.6,370.1 347.4,369.1 348.3,368.0 349.1,366.9 349.9,365.7 350.7,364.5 351.5,363.2 352.3,361.9 353.1,360.6 353.9,359.2 354.7,357.7 355.5,356.3 356.4,354.7 357.2,353.2 358.0,351.6 358.8,349.9 359.6,348.2 360.4,346.4 361.2,344.7 362.0,342.8 362.8,340.9 363.7,339.0 364.5,337.1 365.3,335.1 366.1,333.1 366.9,331.0 367.7,328.9 368.5,326.9 369.3,324.8 370.1,322.7 371.0,320.6 371.8,318.5 372.6,316.4 373.4,314.4 374.2,312.4 375.0,310.4 375.8,308.5 376.6,306.7 377.4,305.0 378.2,303.3 379.1,301.8 379.9,300.4 380.7,299.1 381.5,298.0 382.3,297.0 383.1,296.2 383.9,295.5 384.7,295.0 385.5,294.7 386.4,294.6 387.2,294.7 388.0,295.0 388.8,295.5 389.6,296.2 390.4,297.1 391.2,298.1 392.0,299.4 392.8,300.8 393.7,302.4 394.5,304.1 395.3,305.9 396.1,307.9 396.9,309.9 397.7,312.0 398.5,314.2 399.3,316.4 400.1,318.7 400.9,321.0 401.8,323.3 402.6,325.6 403.4,327.9 404.2,330.2 405.0,332.5 405.8,334.8 406.6,337.0 407.4,339.2 408.2,341.4 409.1,343.5 409.9,345.5 410.7,347.6 411.5,349.5 412.3,351.4 413.1,353.3 413.9,355.1 414.7,356.9 415.5,358.6 416.4,360.3 417.2,361.9 418.0,363.4 418.8,364.9 419.6,366.4 420.4,367.8 421.2,369.2 422.0,370.5 422.8,371.8 423.6,373.0 424.5,374.2 425.3,375.3 426.1,376.4 426.9,377.5 427.7,378.6 428.5,379.6 429.3,380.5 430.1,381.5 430.9,382.4 431.8,383.3 432.6,384.1 433.4,384.9 434.2,385.7 435.0,386.5 435.8,387.2 436.6,388.0 437.4,388.7 438.2,389.3 439.1,390.0 439.9,390.6 440.7,391.2 441.5,391.8 442.3,392.4 443.1,393.0 443.9,393.5 444.7,394.0 445.5,394.5 446.3,395.0 447.2,395.5 448.0,396.0 448.8,396.4 449.6,396.9 450.4,397.3 451.2,397.7 452.0,398.1 452.8,398.5 453.6,398.9 454.5,399.3 455.3,399.7 456.1,400.0 456.9,400.4 457.7,400.7 458.5,401.1 459.3,401.4 460.1,401.7 460.9,402.0 461.8,402.3 462.6,402.6 463.4,402.9 464.2,403.2 465.0,403.5 465.8,403.7 466.6,404.0 467.4,404.3 468.2,404.5 469.0,404.8 469.9,405.0 470.7,405.3 471.5,405.5 472.3,405.7 473.1,406.0 473.9,406.2 474.7,406.4 475.5,406.7 476.3,406.9 477.2,407.1 478.0,407.3 478.8,407.5 479.6,407.7 480.4,407.9 481.2,408.1 482.0,408.3 482.8,408.5 483.6,408.7 484.5,408.9 485.3,409.1 486.1,409.2 486.9,409.4 487.7,409.6 488.5,409.8 489.3,409.9 490.1,410.1 490.9,410.3 491.7,410.4 492.6,410.6 493.4,410.7 494.2,410.9 495.0,411.1 495.8,411.2 496.6,411.4 497.4,411.5 498.2,411.6 499.0,411.8 499.9,411.9 500.7,412.0 501.5,412.2 502.3,412.3 503.1,412.4 503.9,412.6 504.7,412.7 505.5,412.8 506.3,412.9 507.2,413.0 508.0,413.1 508.8,413.3 509.6,413.4 510.4,413.5 511.2,413.6 512.0,413.7 512.8,413.8 513.6,413.9 514.4,414.0 515.3,414.1 516.1,414.1 516.9,414.2 517.7,414.3 518.5,414.4 519.3,414.5 520.1,414.6 520.9,414.7 521.7,414.8 522.6,414.8 523.4,414.9 524.2,415.0 525.0,415.1 525.8,415.2 526.6,415.2 527.4,415.3 528.2,415.4 529.0,415.5 529.9,415.5 530.7,415.6 531.5,415.7 532.3,415.7 533.1,415.8 533.9,415.9 534.7,415.9 535.5,416.0 536.3,416.0 537.1,416.1 538.0,416.2 538.8,416.2 539.6,416.3 540.4,416.3 541.2,416.4" fill="none" stroke="#7d4129" stroke-width="1.9"/>
<path d="M298.8,404.4 299.6,404.5 300.4,404.5 301.2,404.6 302.0,404.6 302.9,404.6 303.7,404.7 304.5,404.7 305.3,404.8 306.1,404.8 306.9,404.8 307.7,404.9 308.5,404.9 309.3,405.0 310.1,405.0 311.0,405.0 311.8,405.1 312.6,405.1 313.4,405.2 314.2,405.2 315.0,405.2 315.8,405.3 316.6,405.3 317.4,405.4 318.3,405.4 319.1,405.4 319.9,405.5 320.7,405.5 321.5,405.6 322.3,405.6 323.1,405.6 323.9,405.7 324.7,405.7 325.6,405.8 326.4,405.8 327.2,405.8 328.0,405.9 328.8,405.9 329.6,406.0 330.4,406.0 331.2,406.1 332.0,406.1 332.8,406.1 333.7,406.2 334.5,406.2 335.3,406.3 336.1,406.3 336.9,406.3 337.7,406.4 338.5,406.4 339.3,406.5 340.1,406.5 341.0,406.5 341.8,406.6 342.6,406.6 343.4,406.7 344.2,406.7 345.0,406.8 345.8,406.8 346.6,406.8 347.4,406.9 348.3,406.9 349.1,407.0 349.9,407.0 350.7,407.0 351.5,407.1 352.3,407.1 353.1,407.2 353.9,407.2 354.7,407.2 355.5,407.3 356.4,407.3 357.2,407.4 358.0,407.4 358.8,407.4 359.6,407.5 360.4,407.5 361.2,407.6 362.0,407.6 362.8,407.7 363.7,407.7 364.5,407.7 365.3,407.8 366.1,407.8 366.9,407.9 367.7,407.9 368.5,408.0 369.3,408.0 370.1,408.0 371.0,408.1 371.8,408.1 372.6,408.2 373.4,408.2 374.2,408.3 375.0,408.3 375.8,408.4 376.6,408.4 377.4,408.5 378.2,408.5 379.1,408.6 379.9,408.6 380.7,408.7 381.5,408.7 382.3,408.8 383.1,408.8 383.9,408.9 384.7,408.9 385.5,409.0 386.4,409.0 387.2,409.1 388.0,409.2 388.8,409.2 389.6,409.3 390.4,409.3 391.2,409.4 392.0,409.5 392.8,409.5 393.7,409.6 394.5,409.6 395.3,409.7 396.1,409.7 396.9,409.8 397.7,409.9 398.5,409.9 399.3,410.0 400.1,410.0 400.9,410.1 401.8,410.2 402.6,410.2 403.4,410.3 404.2,410.3 405.0,410.4 405.8,410.4 406.6,410.5 407.4,410.5 408.2,410.6 409.1,410.6 409.9,410.6 410.7,410.7 411.5,410.7 412.3,410.7 413.1,410.7 413.9,410.8 414.7,410.8 415.5,410.7 416.4,410.7 417.2,410.7 418.0,410.7 418.8,410.6 419.6,410.5 420.4,410.5 421.2,410.3 422.0,410.2 422.8,410.1 423.6,409.9 424.5,409.7 425.3,409.5 426.1,409.2 426.9,408.9 427.7,408.6 428.5,408.2 429.3,407.8 430.1,407.3 430.9,406.8 431.8,406.3 432.6,405.6 433.4,404.9 434.2,404.2 435.0,403.4 435.8,402.4 436.6,401.5 437.4,400.4 438.2,399.3 439.1,398.0 439.9,396.7 440.7,395.3 441.5,393.7 442.3,392.1 443.1,390.4 443.9,388.5 444.7,386.6 445.5,384.5 446.3,382.4 447.2,380.1 448.0,377.7 448.8,375.2 449.6,372.6 450.4,369.9 451.2,367.1 452.0,364.2 452.8,361.2 453.6,358.1 454.5,354.9 455.3,351.7 456.1,348.4 456.9,345.1 457.7,341.7 458.5,338.3 459.3,334.8 460.1,331.4 460.9,327.9 461.8,324.5 462.6,321.1 463.4,317.7 464.2,314.4 465.0,311.2 465.8,308.1 466.6,305.0 467.4,302.1 468.2,299.3 469.0,296.7 469.9,294.2 470.7,291.9 471.5,289.7 472.3,287.8 473.1,286.1 473.9,284.5 474.7,283.2 475.5,282.2 476.3,281.4 477.2,280.8 478.0,280.4 478.8,280.3 479.6,280.5 480.4,280.9 481.2,281.6 482.0,282.5 482.8,283.7 483.6,285.1 484.5,286.8 485.3,288.7 486.1,290.8 486.9,293.1 487.7,295.6 488.5,298.3 489.3,301.1 490.1,304.1 490.9,307.3 491.7,310.5 492.6,313.8 493.4,317.3 494.2,320.8 495.0,324.3 495.8,327.9 496.6,331.5 497.4,335.1 498.2,338.8 499.0,342.4 499.9,345.9 500.7,349.5 501.5,352.9 502.3,356.4 503.1,359.7 503.9,363.0 504.7,366.2 505.5,369.3 506.3,372.3 507.2,375.2 508.0,377.9 508.8,380.6 509.6,383.2 510.4,385.6 511.2,388.0 512.0,390.2 512.8,392.3 513.6,394.3 514.4,396.2 515.3,397.9 516.1,399.6 516.9,401.2 517.7,402.6 518.5,404.0 519.3,405.3 520.1,406.5 520.9,407.6 521.7,408.6 522.6,409.6 523.4,410.4 524.2,411.2 525.0,412.0 525.8,412.7 526.6,413.3 527.4,413.9 528.2,414.4 529.0,414.9 529.9,415.3 530.7,415.7 531.5,416.1 532.3,416.4 533.1,416.7 533.9,416.9 534.7,417.2 535.5,417.4 536.3,417.6 537.1,417.8 538.0,417.9 538.8,418.1 539.6,418.2 540.4,418.4 541.2,418.5" fill="none" stroke="#7d4129" stroke-width="1.9"/>
<rect x="298.8" y="242.5" width="242.40" height="194.70" fill="none" stroke="#111" stroke-width="1.9"/>
<path d="M333.43,437.2 v-4 M368.06,437.2 v-4 M402.69,437.2 v-4 M437.31,437.2 v-4 M471.94,437.2 v-4 M506.57,437.2 v-4 M316.11,437.2 v-2.3 M350.74,437.2 v-2.3 M385.37,437.2 v-2.3 M420.00,437.2 v-2.3 M454.63,437.2 v-2.3 M489.26,437.2 v-2.3 M523.89,437.2 v-2.3 " stroke="#111" stroke-width="1.5" fill="none"/>
<text transform="translate(298.80,449.2) scale(0.98,1.02)" font-size="8.5" text-anchor="middle" fill="#111">346</text>
<text transform="translate(333.43,449.2) scale(0.98,1.02)" font-size="8.5" text-anchor="middle" fill="#111">344</text>
<text transform="translate(368.06,449.2) scale(0.98,1.02)" font-size="8.5" text-anchor="middle" fill="#111">342</text>
<text transform="translate(402.69,449.2) scale(0.98,1.02)" font-size="8.5" text-anchor="middle" fill="#111">340</text>
<text transform="translate(437.31,449.2) scale(0.98,1.02)" font-size="8.5" text-anchor="middle" fill="#111">338</text>
<text transform="translate(471.94,449.2) scale(0.98,1.02)" font-size="8.5" text-anchor="middle" fill="#111">336</text>
<text transform="translate(506.57,449.2) scale(0.98,1.02)" font-size="8.5" text-anchor="middle" fill="#111">334</text>
<text transform="translate(541.20,449.2) scale(0.98,1.02)" font-size="8.5" text-anchor="middle" fill="#111">332</text>
<text transform="translate(307.64,265.00) scale(1.025,1)" font-size="18.77" fill="#111" stroke="#111" stroke-width="0">(d)</text>
<text transform="translate(359.32,263.80) scale(1.020,1)" font-size="10.86" fill="#ac3a30" stroke="#ac3a30" stroke-width="0">PQDs-g-C<tspan font-size="5.43" dx="0.43" dy="4.56">3</tspan><tspan dx="0.43" dy="-4.56">N</tspan><tspan font-size="5.43" dx="0.43" dy="4.56">4</tspan></text>
<text transform="translate(356.09,287.20) scale(1.035,1)" font-size="9.86" fill="#a23a30" stroke="#a23a30" stroke-width="0">Pd 3d<tspan font-size="4.93" dx="0.39" dy="4.14">3/2</tspan></text>
<text transform="translate(447.49,264.40) scale(1.029,1)" font-size="9.86" fill="#b0302c" stroke="#b0302c" stroke-width="0">Pd 3d<tspan font-size="4.93" dx="0.39" dy="4.14">5/2</tspan></text>
<text transform="translate(507.85,257.80) scale(1.088,1)" font-size="9.86" fill="#111" stroke="#111" stroke-width="0">Pd 3d</text>
<text transform="translate(370.56,461.70) scale(1.035,1)" font-size="10.27" fill="#111" stroke="#111" stroke-width="0">Binding energy (eV)</text>
<text transform="translate(289.20,387.10) rotate(-90) scale(1.102,1)" font-size="10.41" fill="#111" stroke="#111" stroke-width="0">Intensity (a. u.)</text>
<path d="M6.5,206.8 Q9,204.6 12.2,206.2 M20.5,205.8 Q24,203.2 28.8,205.2 M34,204 L36.6,211 M0,216.2 L5.2,216.8 M8.7,214.8 L15.3,223.3 M16.1,218.6 Q18,219.5 20,218 Q22,216.5 24,218.5 L27,218.6 Q29,219 31,217.5 L33,218.8 Q36,219.4 38.5,218.2 M42.8,217.5 Q38.6,220 38.4,214 Q38.5,208.5 41,206.7 M30.1,224 V231.4 M6.5,232.3 L9.6,239.3 M279.8,208.2 L273.8,215.8 M266.7,224 L261.8,231.6 M45.5,206 Q48,203.4 51.5,205.2" fill="none" stroke="#f4ace6" stroke-width="1.35" stroke-linecap="round"/>
</svg></body></html>
